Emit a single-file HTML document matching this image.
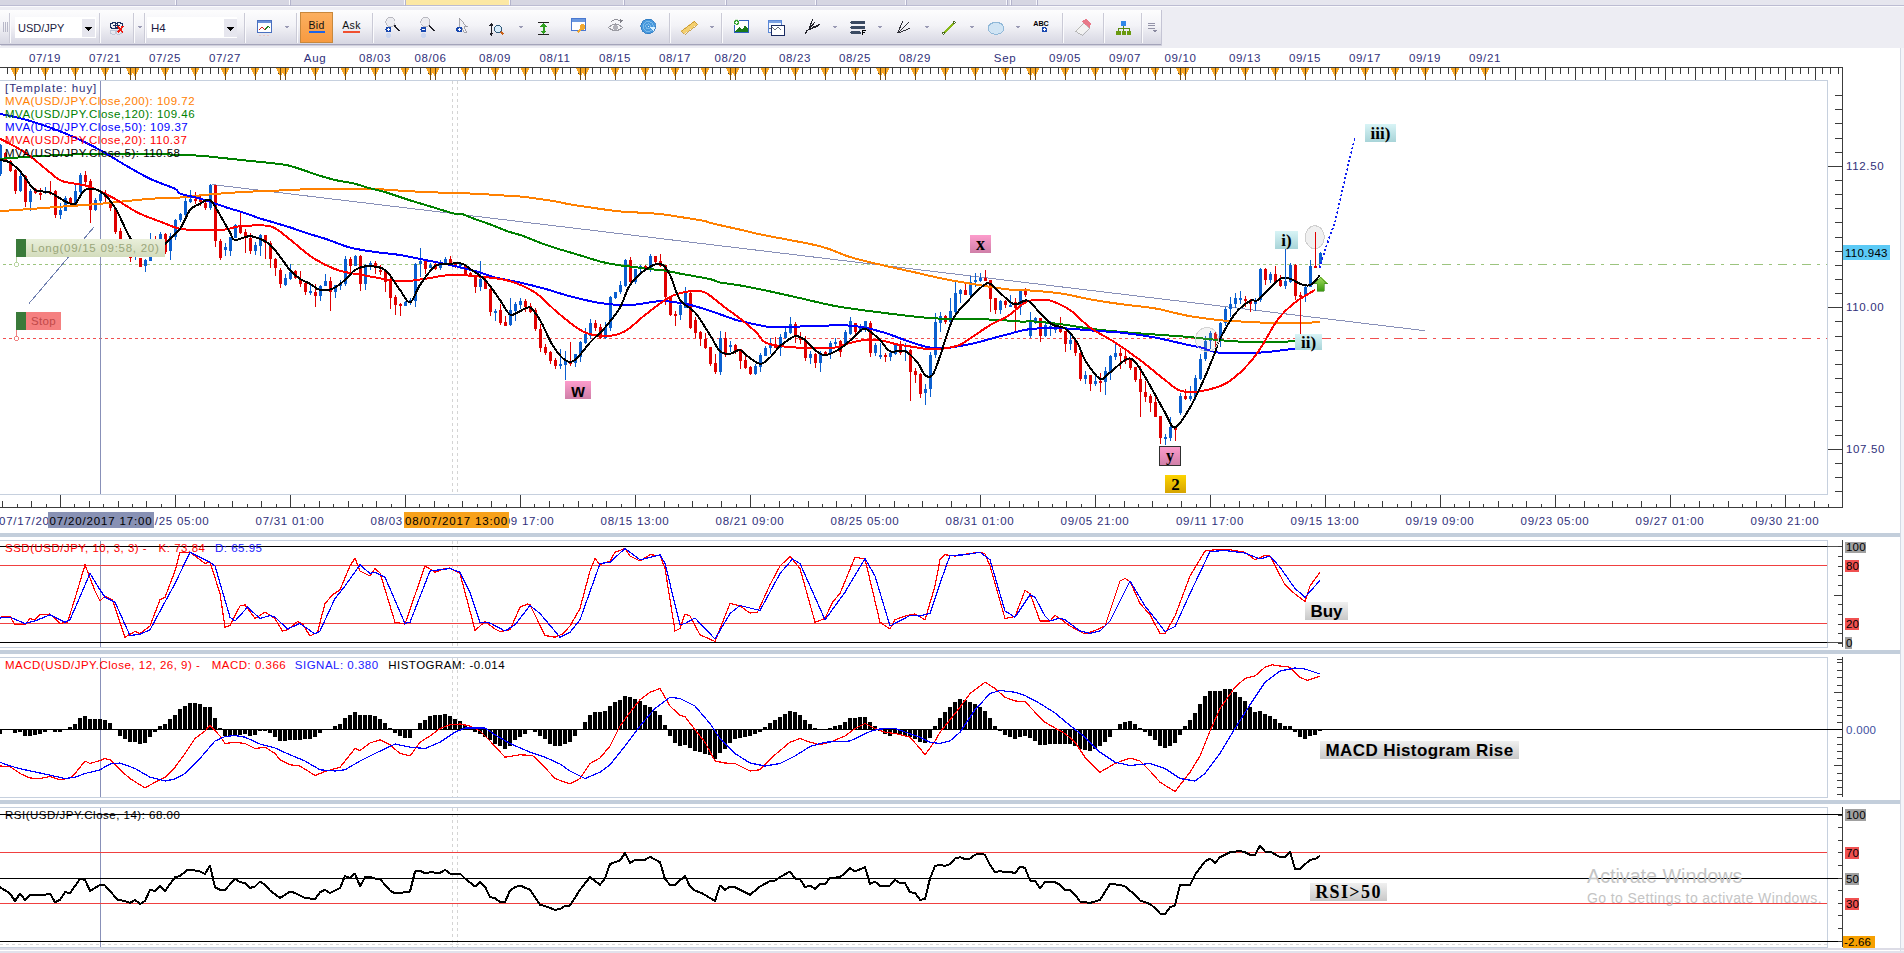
<!DOCTYPE html><html><head><meta charset="utf-8"><style>
html,body{margin:0;padding:0;width:1904px;height:953px;overflow:hidden;background:#fff;}
svg{display:block}
text{font-family:"Liberation Sans",sans-serif;}
.ser{font-family:"Liberation Serif",serif;font-weight:bold}
</style></head><body>
<svg width="1904" height="953" viewBox="0 0 1904 953">
<defs><linearGradient id="tb" x1="0" y1="0" x2="0" y2="1"><stop offset="0" stop-color="#fdfdfe"/><stop offset="0.45" stop-color="#f3f3f7"/><stop offset="1" stop-color="#d6d6e2"/></linearGradient><linearGradient id="bid" x1="0" y1="0" x2="0" y2="1"><stop offset="0" stop-color="#fcb060"/><stop offset="1" stop-color="#f79a40"/></linearGradient><linearGradient id="longg" x1="0" y1="0" x2="0" y2="1"><stop offset="0" stop-color="#e9efda"/><stop offset="1" stop-color="#d3dcbc"/></linearGradient><linearGradient id="pink" x1="0" y1="0" x2="0" y2="1"><stop offset="0" stop-color="#fd9ccc"/><stop offset="1" stop-color="#cf7fa8"/></linearGradient><linearGradient id="cyan" x1="0" y1="0" x2="0" y2="1"><stop offset="0" stop-color="#d8f4f6"/><stop offset="1" stop-color="#a8d4d8"/></linearGradient><linearGradient id="gold" x1="0" y1="0" x2="0" y2="1"><stop offset="0" stop-color="#fdd400"/><stop offset="1" stop-color="#d6a400"/></linearGradient><linearGradient id="gray" x1="0" y1="0" x2="0" y2="1"><stop offset="0" stop-color="#f0f0f0"/><stop offset="1" stop-color="#c8c8c8"/></linearGradient></defs>
<g shape-rendering="crispEdges">
<rect x="0" y="0" width="1904" height="48" fill="#ededf3"/>
<rect x="0" y="0" width="1038" height="5" fill="#d6d6e2"/>
<rect x="1038" y="0" width="866" height="5" fill="#e6e6ee"/>
<rect x="0" y="5" width="1904" height="1" fill="#bcbcd2"/>
<rect x="0" y="6" width="1904" height="1" fill="#fafafc"/>
<rect x="405" y="0" width="105" height="5" fill="#fce8a4"/>
<rect x="175" y="0" width="1" height="5" fill="#f8f8fc"/><rect x="176" y="0" width="1" height="6" fill="#b4b4cc"/>
<rect x="289" y="0" width="1" height="5" fill="#f8f8fc"/><rect x="290" y="0" width="1" height="6" fill="#b4b4cc"/>
<rect x="404" y="0" width="1" height="5" fill="#f8f8fc"/><rect x="405" y="0" width="1" height="6" fill="#b4b4cc"/>
<rect x="509" y="0" width="1" height="5" fill="#f8f8fc"/><rect x="510" y="0" width="1" height="6" fill="#b4b4cc"/>
<rect x="623" y="0" width="1" height="5" fill="#f8f8fc"/><rect x="624" y="0" width="1" height="6" fill="#b4b4cc"/>
<rect x="725" y="0" width="1" height="5" fill="#f8f8fc"/><rect x="726" y="0" width="1" height="6" fill="#b4b4cc"/>
<rect x="815" y="0" width="1" height="5" fill="#f8f8fc"/><rect x="816" y="0" width="1" height="6" fill="#b4b4cc"/>
<rect x="905" y="0" width="1" height="5" fill="#f8f8fc"/><rect x="906" y="0" width="1" height="6" fill="#b4b4cc"/>
<rect x="1006" y="0" width="1" height="5" fill="#f8f8fc"/><rect x="1007" y="0" width="1" height="6" fill="#b4b4cc"/>
<rect x="1010" y="0" width="1" height="5" fill="#f8f8fc"/><rect x="1011" y="0" width="1" height="6" fill="#b4b4cc"/>
<rect x="1036" y="0" width="1" height="5" fill="#f8f8fc"/><rect x="1037" y="0" width="1" height="6" fill="#b4b4cc"/>
<rect x="0" y="10" width="1161" height="34" fill="url(#tb)"/>
<rect x="0" y="44" width="1161" height="1" fill="#a4a4ba"/>
<rect x="1" y="45" width="1161" height="1" fill="#d0d0dc"/>
<rect x="1161" y="10" width="1" height="35" fill="#c4c4d4"/>
<rect x="0" y="48" width="1904" height="905" fill="#ffffff"/>
<rect x="3" y="22" width="1" height="10" fill="#b8b8c8"/>
<rect x="5" y="22" width="1" height="10" fill="#b8b8c8"/>
<rect x="7" y="22" width="1" height="10" fill="#b8b8c8"/>
<rect x="9" y="13" width="1" height="30" fill="#cacad6" shape-rendering="crispEdges"/><rect x="10" y="13" width="1" height="30" fill="#fbfbfd" shape-rendering="crispEdges"/>
<rect x="99" y="13" width="1" height="30" fill="#cacad6" shape-rendering="crispEdges"/><rect x="100" y="13" width="1" height="30" fill="#fbfbfd" shape-rendering="crispEdges"/>
<rect x="133" y="13" width="1" height="30" fill="#cacad6" shape-rendering="crispEdges"/><rect x="134" y="13" width="1" height="30" fill="#fbfbfd" shape-rendering="crispEdges"/>
<rect x="144" y="13" width="1" height="30" fill="#cacad6" shape-rendering="crispEdges"/><rect x="145" y="13" width="1" height="30" fill="#fbfbfd" shape-rendering="crispEdges"/>
<rect x="244" y="13" width="1" height="30" fill="#cacad6" shape-rendering="crispEdges"/><rect x="245" y="13" width="1" height="30" fill="#fbfbfd" shape-rendering="crispEdges"/>
<rect x="296" y="13" width="1" height="30" fill="#cacad6" shape-rendering="crispEdges"/><rect x="297" y="13" width="1" height="30" fill="#fbfbfd" shape-rendering="crispEdges"/>
<rect x="372" y="13" width="1" height="30" fill="#cacad6" shape-rendering="crispEdges"/><rect x="373" y="13" width="1" height="30" fill="#fbfbfd" shape-rendering="crispEdges"/>
<rect x="669" y="13" width="1" height="30" fill="#cacad6" shape-rendering="crispEdges"/><rect x="670" y="13" width="1" height="30" fill="#fbfbfd" shape-rendering="crispEdges"/>
<rect x="721" y="13" width="1" height="30" fill="#cacad6" shape-rendering="crispEdges"/><rect x="722" y="13" width="1" height="30" fill="#fbfbfd" shape-rendering="crispEdges"/>
<rect x="1062" y="13" width="1" height="30" fill="#cacad6" shape-rendering="crispEdges"/><rect x="1063" y="13" width="1" height="30" fill="#fbfbfd" shape-rendering="crispEdges"/>
<rect x="1103" y="13" width="1" height="30" fill="#cacad6" shape-rendering="crispEdges"/><rect x="1104" y="13" width="1" height="30" fill="#fbfbfd" shape-rendering="crispEdges"/>
<rect x="1141" y="13" width="1" height="30" fill="#cacad6" shape-rendering="crispEdges"/><rect x="1142" y="13" width="1" height="30" fill="#fbfbfd" shape-rendering="crispEdges"/>
<rect x="15" y="17" width="81" height="21" fill="#ffffff" shape-rendering="crispEdges"/>
<rect x="82" y="19" width="13" height="18" fill="#e6e6ee" shape-rendering="crispEdges"/>
<path d="M85 27 L92 27 L88.5 31 Z" fill="#000"/>
<text x="18" y="31.5" font-size="11" fill="#1a1a40">USD/JPY</text>
<rect x="147" y="17" width="90" height="21" fill="#ffffff" shape-rendering="crispEdges"/>
<rect x="224" y="19" width="13" height="18" fill="#e6e6ee" shape-rendering="crispEdges"/>
<path d="M227 27 L234 27 L230.5 31 Z" fill="#000"/>
<text x="151" y="31.5" font-size="11.5" fill="#1a1a40">H4</text>
<g fill="none" stroke="#1a3060" stroke-width="1.2"><rect x="110.5" y="22.8" width="7" height="5.6" rx="2.8"/><rect x="115.5" y="22.8" width="7" height="5.6" rx="2.8"/></g><path d="M113 25.6 H120" stroke="#1a3060" stroke-width="1"/>
<g fill="none" stroke="#c0c8d8" stroke-width="1"><rect x="110" y="30" width="7" height="4" rx="2"/><rect x="115" y="30" width="7" height="4" rx="2"/></g>
<path d="M117.5 26 L123 32.5 M123 26 L117.5 32.5" stroke="#ee1a10" stroke-width="1.8"/>
<path d="M137.0 26 L142.0 26 L139.5 28.5 Z" fill="#9a9ab4"/>
<path d="M284.5 26 L289.5 26 L287 28.5 Z" fill="#9a9ab4"/>
<path d="M518.2 26 L523.2 26 L520.7 28.5 Z" fill="#9a9ab4"/>
<path d="M709.8 26 L714.8 26 L712.3 28.5 Z" fill="#9a9ab4"/>
<path d="M832.1 26 L837.1 26 L834.6 28.5 Z" fill="#9a9ab4"/>
<path d="M877.7 26 L882.7 26 L880.2 28.5 Z" fill="#9a9ab4"/>
<path d="M924.0 26 L929.0 26 L926.5 28.5 Z" fill="#9a9ab4"/>
<path d="M969.9 26 L974.9 26 L972.4 28.5 Z" fill="#9a9ab4"/>
<path d="M1015.8 26 L1020.8 26 L1018.3 28.5 Z" fill="#9a9ab4"/>
<rect x="257.5" y="20.5" width="14" height="12" fill="#fff" stroke="#4a70c0"/><rect x="258" y="21" width="13" height="2" fill="#6a90d8"/>
<path d="M259 30 L262 27 L265 30" fill="none" stroke="#d02020" stroke-width="1.2"/><path d="M265 30 L268 26 L270 28" fill="none" stroke="#208020" stroke-width="1.2"/>
<path d="M259 35 H271" stroke="#e8c8c8" stroke-width="1" stroke-dasharray="2,2"/>
<rect x="300.5" y="12.5" width="32" height="30" fill="url(#bid)" stroke="#c8883c" shape-rendering="crispEdges"/>
<text x="316.5" y="29" font-size="10.5" fill="#111" text-anchor="middle" letter-spacing="0.3">Bid</text>
<rect x="309" y="31" width="16" height="2" fill="#1e64e6" shape-rendering="crispEdges"/>
<text x="351.5" y="29" font-size="10.5" fill="#111" text-anchor="middle" letter-spacing="0.3">Ask</text>
<rect x="343" y="31" width="17" height="2" fill="#f05030" shape-rendering="crispEdges"/>
<circle cx="390.5" cy="22" r="4.6" fill="#ececf0" stroke="#b8b8c0" stroke-width="1"/><path d="M394.5 25.5 L399.5 31" stroke="#202028" stroke-width="1.6"/><circle cx="388.5" cy="29.5" r="3" fill="#1848b0"/><path d="M386.7 29.5 H390.3 M388.5 27.7 V31.3" stroke="#fff" stroke-width="1.1"/><circle cx="388.5" cy="35.5" r="2.5" fill="#c0d0f0" opacity="0.7"/>
<circle cx="425.4" cy="22" r="4.6" fill="#ececf0" stroke="#b8b8c0" stroke-width="1"/><path d="M429.4 25.5 L434.4 31" stroke="#202028" stroke-width="1.6"/><circle cx="423.4" cy="29.5" r="3" fill="#1848b0"/><path d="M421.59999999999997 29.5 H425.2" stroke="#fff" stroke-width="1.1"/><circle cx="423.4" cy="35.5" r="2.5" fill="#c0d0f0" opacity="0.7"/>
<path d="M459.5 17.5 L459.5 30 L462 27.5 L464.5 32.5 L466.5 31.5 L464 26.5 L467.5 26.5 Z" fill="#f0f0f4" stroke="#909098" stroke-width="0.8"/><circle cx="459.3" cy="29.5" r="3" fill="#1848b0"/><path d="M457.5 29.5 H461.1 M459.3 27.7 V31.3" stroke="#fff" stroke-width="1.1"/>
<path d="M491.5 23.5 V35" stroke="#202028" stroke-width="1"/><path d="M489.5 25.5 L491.5 22.5 L493.5 25.5 Z M489.5 33 L491.5 36 L493.5 33 Z" fill="#202028"/><circle cx="498.2" cy="29" r="3.6" fill="#d8ecfa" stroke="#305878" stroke-width="1.2"/><path d="M500.8 31.6 L503.5 34.5" stroke="#c86018" stroke-width="1.8"/>
<path d="M538 22.5 H549 M538 34.5 H549" stroke="#202020" stroke-width="1.4"/><path d="M540.5 26.5 L543.6 22.5 L546.7 26.5 Z M540.5 30.5 L543.6 34.5 L546.7 30.5 Z" fill="#30a020"/><rect x="542.6" y="25.5" width="2" height="6" fill="#30a020"/>
<rect x="571.5" y="18.5" width="14" height="12" fill="#fff" stroke="#4a78d0"/><rect x="572" y="19" width="13" height="2.5" fill="#6a98e0"/><circle cx="582.5" cy="27" r="2.8" fill="#f0a830"/><path d="M581 29 L577.5 32.5" stroke="#f0a830" stroke-width="2.2"/>
<path d="M608.5 27.5 Q615.5 20.5 622.5 27.5 Q615.5 34 608.5 27.5 Z" fill="#f4f4f6" stroke="#9a9aa2" stroke-width="1.1"/><circle cx="615.5" cy="27.5" r="2.4" fill="#b0b0b8"/><path d="M611 21.5 Q615 18.5 620 20.5" stroke="#909098" fill="none" stroke-width="1"/><path d="M620 19 L623 20.5 L620.5 23 Z" fill="#808088"/>
<circle cx="648.2" cy="26.4" r="7.4" fill="#4898dc" stroke="#2c78c0" stroke-width="0.8"/><circle cx="648.2" cy="26.4" r="5" fill="none" stroke="#90c8f0" stroke-width="0.7"/><circle cx="648.2" cy="26.4" r="2.5" fill="none" stroke="#90c8f0" stroke-width="0.7"/><path d="M648.2 26.4 L654 31 L655 27 Z" fill="#d8f0ff"/>
<path d="M681.5 30.5 L694.5 20.5 L697.5 24 L684.5 34 Z" fill="#f4d070" stroke="#c09030" stroke-width="0.8"/>
<rect x="734.5" y="20.5" width="14" height="12" fill="#fff" stroke="#3060c0"/><path d="M735 32 L739 27 L742 29.5 L745 25.5 L748 29 L748 32 Z" fill="#1a7a1a"/><circle cx="736.5" cy="22.2" r="3" fill="#30a030" stroke="#fff" stroke-width="0.8"/><path d="M735 22.2 H738 M736.5 20.7 V23.7" stroke="#fff" stroke-width="0.9"/>
<rect x="768.5" y="20.5" width="13" height="12" fill="#f4f8ff" stroke="#5a88d8"/><rect x="769" y="21" width="12" height="2" fill="#7aa0e0"/><rect x="771.5" y="25.5" width="13" height="10" fill="#fff" stroke="#1a2a60"/><path d="M769 29 L772 27.5 L775 29.5 L778 27.5 L781 29.5" stroke="#404858" fill="none" stroke-width="0.8"/>
<path d="M805 33.5 L815 22 M806.5 30.5 L818 26 M809.5 28 L812.5 19.5 M812 27.5 L820 24.5" stroke="#202028" stroke-width="1.1" fill="none"/>
<g fill="#3a4a62"><rect x="850.3" y="21" width="15.2" height="2.8" rx="1.4"/><rect x="850.3" y="26.2" width="15.2" height="2.8" rx="1.4"/><rect x="850.3" y="31.4" width="11" height="2.8" rx="1.4"/></g><path d="M862.5 35 V30.8 H865.5 M862.5 32.8 H864.8" stroke="#000" stroke-width="1.2" fill="none"/>
<path d="M897.6 33.2 L902.8 21.1 M897.6 33.2 L909.1 22.2 M897.6 33.2 L909.7 28.5" stroke="#303038" stroke-width="1" fill="none"/>
<path d="M943.5 33.4 L954.3 22.5" stroke="#88b818" stroke-width="2"/><circle cx="943.5" cy="33.4" r="1.3" fill="#fff" stroke="#3a5a10" stroke-width="0.9"/><circle cx="954.3" cy="22.5" r="1.3" fill="#fff" stroke="#3a5a10" stroke-width="0.9"/>
<ellipse cx="996" cy="28.3" rx="7.9" ry="6" fill="#d0e4f4" stroke="#90b8d8" stroke-width="1"/>
<text x="1041" y="25.5" font-size="7.2" font-weight="bold" fill="#000" text-anchor="middle">ABC</text><circle cx="1044.3" cy="29.7" r="2.8" fill="#1848b0"/><path d="M1042.6 29.7 H1046 M1044.3 28 V31.4" stroke="#fff" stroke-width="1"/>
<path d="M1075 31 L1083 22.5 L1089.5 28 L1081.5 35 Z" fill="#f2f2f2" stroke="#a8a8a8" stroke-width="0.8"/><path d="M1082 21 L1086 19 L1091 23 L1089.5 28 L1083 22.5 Z" fill="#e87888"/>
<rect x="1121" y="21.3" width="4.8" height="4.2" fill="#3088e8"/><path d="M1123.5 25.5 V28 M1118.5 28 H1129 M1118.5 28 V31 M1123.5 28 V31 M1129 28 V31" stroke="#5a8a10" stroke-width="1" fill="none"/><rect x="1116" y="30.8" width="5" height="3.8" fill="#6a9a10"/><rect x="1121.6" y="30.8" width="4.4" height="3.8" fill="#6a9a10"/><rect x="1127" y="30.8" width="4.4" height="3.8" fill="#6a9a10"/>
<path d="M1148 23 H1155 M1148 25.5 H1155 M1148 28 H1155" stroke="#8a8aa0" stroke-width="0.9"/><path d="M1152 30 L1157 30 L1154.5 32.5 Z" fill="#8a8aa0"/>
<g shape-rendering="crispEdges">
<rect x="0" y="67" width="1843" height="1" fill="#3c3c3c"/>
<rect x="15" y="67" width="1" height="13" fill="#3a3a3a"/>
<rect x="22" y="67" width="1" height="7" fill="#3a3a3a"/>
<rect x="30" y="67" width="1" height="7" fill="#3a3a3a"/>
<rect x="38" y="67" width="1" height="7" fill="#3a3a3a"/>
<rect x="45" y="67" width="1" height="13" fill="#3a3a3a"/>
<rect x="52" y="67" width="1" height="7" fill="#3a3a3a"/>
<rect x="60" y="67" width="1" height="7" fill="#3a3a3a"/>
<rect x="68" y="67" width="1" height="7" fill="#3a3a3a"/>
<rect x="75" y="67" width="1" height="13" fill="#3a3a3a"/>
<rect x="82" y="67" width="1" height="7" fill="#3a3a3a"/>
<rect x="90" y="67" width="1" height="7" fill="#3a3a3a"/>
<rect x="98" y="67" width="1" height="7" fill="#3a3a3a"/>
<rect x="105" y="67" width="1" height="13" fill="#3a3a3a"/>
<rect x="112" y="67" width="1" height="7" fill="#3a3a3a"/>
<rect x="120" y="67" width="1" height="7" fill="#3a3a3a"/>
<rect x="128" y="67" width="1" height="7" fill="#3a3a3a"/>
<rect x="135" y="67" width="1" height="13" fill="#3a3a3a"/>
<rect x="142" y="67" width="1" height="7" fill="#3a3a3a"/>
<rect x="150" y="67" width="1" height="7" fill="#3a3a3a"/>
<rect x="158" y="67" width="1" height="7" fill="#3a3a3a"/>
<rect x="165" y="67" width="1" height="13" fill="#3a3a3a"/>
<rect x="172" y="67" width="1" height="7" fill="#3a3a3a"/>
<rect x="180" y="67" width="1" height="7" fill="#3a3a3a"/>
<rect x="188" y="67" width="1" height="7" fill="#3a3a3a"/>
<rect x="195" y="67" width="1" height="13" fill="#3a3a3a"/>
<rect x="202" y="67" width="1" height="7" fill="#3a3a3a"/>
<rect x="210" y="67" width="1" height="7" fill="#3a3a3a"/>
<rect x="218" y="67" width="1" height="7" fill="#3a3a3a"/>
<rect x="225" y="67" width="1" height="13" fill="#3a3a3a"/>
<rect x="232" y="67" width="1" height="7" fill="#3a3a3a"/>
<rect x="240" y="67" width="1" height="7" fill="#3a3a3a"/>
<rect x="248" y="67" width="1" height="7" fill="#3a3a3a"/>
<rect x="255" y="67" width="1" height="13" fill="#3a3a3a"/>
<rect x="262" y="67" width="1" height="7" fill="#3a3a3a"/>
<rect x="270" y="67" width="1" height="7" fill="#3a3a3a"/>
<rect x="278" y="67" width="1" height="7" fill="#3a3a3a"/>
<rect x="285" y="67" width="1" height="13" fill="#3a3a3a"/>
<rect x="292" y="67" width="1" height="7" fill="#3a3a3a"/>
<rect x="300" y="67" width="1" height="7" fill="#3a3a3a"/>
<rect x="308" y="67" width="1" height="7" fill="#3a3a3a"/>
<rect x="315" y="67" width="1" height="13" fill="#3a3a3a"/>
<rect x="322" y="67" width="1" height="7" fill="#3a3a3a"/>
<rect x="330" y="67" width="1" height="7" fill="#3a3a3a"/>
<rect x="338" y="67" width="1" height="7" fill="#3a3a3a"/>
<rect x="345" y="67" width="1" height="13" fill="#3a3a3a"/>
<rect x="352" y="67" width="1" height="7" fill="#3a3a3a"/>
<rect x="360" y="67" width="1" height="7" fill="#3a3a3a"/>
<rect x="368" y="67" width="1" height="7" fill="#3a3a3a"/>
<rect x="375" y="67" width="1" height="13" fill="#3a3a3a"/>
<rect x="382" y="67" width="1" height="7" fill="#3a3a3a"/>
<rect x="390" y="67" width="1" height="7" fill="#3a3a3a"/>
<rect x="398" y="67" width="1" height="7" fill="#3a3a3a"/>
<rect x="405" y="67" width="1" height="13" fill="#3a3a3a"/>
<rect x="412" y="67" width="1" height="7" fill="#3a3a3a"/>
<rect x="420" y="67" width="1" height="7" fill="#3a3a3a"/>
<rect x="428" y="67" width="1" height="7" fill="#3a3a3a"/>
<rect x="435" y="67" width="1" height="13" fill="#3a3a3a"/>
<rect x="442" y="67" width="1" height="7" fill="#3a3a3a"/>
<rect x="450" y="67" width="1" height="7" fill="#3a3a3a"/>
<rect x="458" y="67" width="1" height="7" fill="#3a3a3a"/>
<rect x="465" y="67" width="1" height="13" fill="#3a3a3a"/>
<rect x="472" y="67" width="1" height="7" fill="#3a3a3a"/>
<rect x="480" y="67" width="1" height="7" fill="#3a3a3a"/>
<rect x="488" y="67" width="1" height="7" fill="#3a3a3a"/>
<rect x="495" y="67" width="1" height="13" fill="#3a3a3a"/>
<rect x="502" y="67" width="1" height="7" fill="#3a3a3a"/>
<rect x="510" y="67" width="1" height="7" fill="#3a3a3a"/>
<rect x="518" y="67" width="1" height="7" fill="#3a3a3a"/>
<rect x="525" y="67" width="1" height="13" fill="#3a3a3a"/>
<rect x="532" y="67" width="1" height="7" fill="#3a3a3a"/>
<rect x="540" y="67" width="1" height="7" fill="#3a3a3a"/>
<rect x="548" y="67" width="1" height="7" fill="#3a3a3a"/>
<rect x="555" y="67" width="1" height="13" fill="#3a3a3a"/>
<rect x="562" y="67" width="1" height="7" fill="#3a3a3a"/>
<rect x="570" y="67" width="1" height="7" fill="#3a3a3a"/>
<rect x="578" y="67" width="1" height="7" fill="#3a3a3a"/>
<rect x="585" y="67" width="1" height="13" fill="#3a3a3a"/>
<rect x="592" y="67" width="1" height="7" fill="#3a3a3a"/>
<rect x="600" y="67" width="1" height="7" fill="#3a3a3a"/>
<rect x="608" y="67" width="1" height="7" fill="#3a3a3a"/>
<rect x="615" y="67" width="1" height="13" fill="#3a3a3a"/>
<rect x="622" y="67" width="1" height="7" fill="#3a3a3a"/>
<rect x="630" y="67" width="1" height="7" fill="#3a3a3a"/>
<rect x="638" y="67" width="1" height="7" fill="#3a3a3a"/>
<rect x="645" y="67" width="1" height="13" fill="#3a3a3a"/>
<rect x="652" y="67" width="1" height="7" fill="#3a3a3a"/>
<rect x="660" y="67" width="1" height="7" fill="#3a3a3a"/>
<rect x="668" y="67" width="1" height="7" fill="#3a3a3a"/>
<rect x="675" y="67" width="1" height="13" fill="#3a3a3a"/>
<rect x="682" y="67" width="1" height="7" fill="#3a3a3a"/>
<rect x="690" y="67" width="1" height="7" fill="#3a3a3a"/>
<rect x="698" y="67" width="1" height="7" fill="#3a3a3a"/>
<rect x="705" y="67" width="1" height="13" fill="#3a3a3a"/>
<rect x="712" y="67" width="1" height="7" fill="#3a3a3a"/>
<rect x="720" y="67" width="1" height="7" fill="#3a3a3a"/>
<rect x="728" y="67" width="1" height="7" fill="#3a3a3a"/>
<rect x="735" y="67" width="1" height="13" fill="#3a3a3a"/>
<rect x="742" y="67" width="1" height="7" fill="#3a3a3a"/>
<rect x="750" y="67" width="1" height="7" fill="#3a3a3a"/>
<rect x="758" y="67" width="1" height="7" fill="#3a3a3a"/>
<rect x="765" y="67" width="1" height="13" fill="#3a3a3a"/>
<rect x="772" y="67" width="1" height="7" fill="#3a3a3a"/>
<rect x="780" y="67" width="1" height="7" fill="#3a3a3a"/>
<rect x="788" y="67" width="1" height="7" fill="#3a3a3a"/>
<rect x="795" y="67" width="1" height="13" fill="#3a3a3a"/>
<rect x="802" y="67" width="1" height="7" fill="#3a3a3a"/>
<rect x="810" y="67" width="1" height="7" fill="#3a3a3a"/>
<rect x="818" y="67" width="1" height="7" fill="#3a3a3a"/>
<rect x="825" y="67" width="1" height="13" fill="#3a3a3a"/>
<rect x="832" y="67" width="1" height="7" fill="#3a3a3a"/>
<rect x="840" y="67" width="1" height="7" fill="#3a3a3a"/>
<rect x="848" y="67" width="1" height="7" fill="#3a3a3a"/>
<rect x="855" y="67" width="1" height="13" fill="#3a3a3a"/>
<rect x="862" y="67" width="1" height="7" fill="#3a3a3a"/>
<rect x="870" y="67" width="1" height="7" fill="#3a3a3a"/>
<rect x="878" y="67" width="1" height="7" fill="#3a3a3a"/>
<rect x="885" y="67" width="1" height="13" fill="#3a3a3a"/>
<rect x="892" y="67" width="1" height="7" fill="#3a3a3a"/>
<rect x="900" y="67" width="1" height="7" fill="#3a3a3a"/>
<rect x="908" y="67" width="1" height="7" fill="#3a3a3a"/>
<rect x="915" y="67" width="1" height="13" fill="#3a3a3a"/>
<rect x="922" y="67" width="1" height="7" fill="#3a3a3a"/>
<rect x="930" y="67" width="1" height="7" fill="#3a3a3a"/>
<rect x="938" y="67" width="1" height="7" fill="#3a3a3a"/>
<rect x="945" y="67" width="1" height="13" fill="#3a3a3a"/>
<rect x="952" y="67" width="1" height="7" fill="#3a3a3a"/>
<rect x="960" y="67" width="1" height="7" fill="#3a3a3a"/>
<rect x="968" y="67" width="1" height="7" fill="#3a3a3a"/>
<rect x="975" y="67" width="1" height="13" fill="#3a3a3a"/>
<rect x="982" y="67" width="1" height="7" fill="#3a3a3a"/>
<rect x="990" y="67" width="1" height="7" fill="#3a3a3a"/>
<rect x="998" y="67" width="1" height="7" fill="#3a3a3a"/>
<rect x="1005" y="67" width="1" height="13" fill="#3a3a3a"/>
<rect x="1012" y="67" width="1" height="7" fill="#3a3a3a"/>
<rect x="1020" y="67" width="1" height="7" fill="#3a3a3a"/>
<rect x="1028" y="67" width="1" height="7" fill="#3a3a3a"/>
<rect x="1035" y="67" width="1" height="13" fill="#3a3a3a"/>
<rect x="1042" y="67" width="1" height="7" fill="#3a3a3a"/>
<rect x="1050" y="67" width="1" height="7" fill="#3a3a3a"/>
<rect x="1058" y="67" width="1" height="7" fill="#3a3a3a"/>
<rect x="1065" y="67" width="1" height="13" fill="#3a3a3a"/>
<rect x="1072" y="67" width="1" height="7" fill="#3a3a3a"/>
<rect x="1080" y="67" width="1" height="7" fill="#3a3a3a"/>
<rect x="1088" y="67" width="1" height="7" fill="#3a3a3a"/>
<rect x="1095" y="67" width="1" height="13" fill="#3a3a3a"/>
<rect x="1102" y="67" width="1" height="7" fill="#3a3a3a"/>
<rect x="1110" y="67" width="1" height="7" fill="#3a3a3a"/>
<rect x="1118" y="67" width="1" height="7" fill="#3a3a3a"/>
<rect x="1125" y="67" width="1" height="13" fill="#3a3a3a"/>
<rect x="1132" y="67" width="1" height="7" fill="#3a3a3a"/>
<rect x="1140" y="67" width="1" height="7" fill="#3a3a3a"/>
<rect x="1148" y="67" width="1" height="7" fill="#3a3a3a"/>
<rect x="1155" y="67" width="1" height="13" fill="#3a3a3a"/>
<rect x="1162" y="67" width="1" height="7" fill="#3a3a3a"/>
<rect x="1170" y="67" width="1" height="7" fill="#3a3a3a"/>
<rect x="1178" y="67" width="1" height="7" fill="#3a3a3a"/>
<rect x="1185" y="67" width="1" height="13" fill="#3a3a3a"/>
<rect x="1192" y="67" width="1" height="7" fill="#3a3a3a"/>
<rect x="1200" y="67" width="1" height="7" fill="#3a3a3a"/>
<rect x="1208" y="67" width="1" height="7" fill="#3a3a3a"/>
<rect x="1215" y="67" width="1" height="13" fill="#3a3a3a"/>
<rect x="1222" y="67" width="1" height="7" fill="#3a3a3a"/>
<rect x="1230" y="67" width="1" height="7" fill="#3a3a3a"/>
<rect x="1238" y="67" width="1" height="7" fill="#3a3a3a"/>
<rect x="1245" y="67" width="1" height="13" fill="#3a3a3a"/>
<rect x="1252" y="67" width="1" height="7" fill="#3a3a3a"/>
<rect x="1260" y="67" width="1" height="7" fill="#3a3a3a"/>
<rect x="1268" y="67" width="1" height="7" fill="#3a3a3a"/>
<rect x="1275" y="67" width="1" height="13" fill="#3a3a3a"/>
<rect x="1282" y="67" width="1" height="7" fill="#3a3a3a"/>
<rect x="1290" y="67" width="1" height="7" fill="#3a3a3a"/>
<rect x="1298" y="67" width="1" height="7" fill="#3a3a3a"/>
<rect x="1305" y="67" width="1" height="13" fill="#3a3a3a"/>
<rect x="1312" y="67" width="1" height="7" fill="#3a3a3a"/>
<rect x="1320" y="67" width="1" height="7" fill="#3a3a3a"/>
<rect x="1328" y="67" width="1" height="7" fill="#3a3a3a"/>
<rect x="1335" y="67" width="1" height="13" fill="#3a3a3a"/>
<rect x="1342" y="67" width="1" height="7" fill="#3a3a3a"/>
<rect x="1350" y="67" width="1" height="7" fill="#3a3a3a"/>
<rect x="1358" y="67" width="1" height="7" fill="#3a3a3a"/>
<rect x="1365" y="67" width="1" height="13" fill="#3a3a3a"/>
<rect x="1372" y="67" width="1" height="7" fill="#3a3a3a"/>
<rect x="1380" y="67" width="1" height="7" fill="#3a3a3a"/>
<rect x="1388" y="67" width="1" height="7" fill="#3a3a3a"/>
<rect x="1395" y="67" width="1" height="13" fill="#3a3a3a"/>
<rect x="1402" y="67" width="1" height="7" fill="#3a3a3a"/>
<rect x="1410" y="67" width="1" height="7" fill="#3a3a3a"/>
<rect x="1418" y="67" width="1" height="7" fill="#3a3a3a"/>
<rect x="1425" y="67" width="1" height="13" fill="#3a3a3a"/>
<rect x="1432" y="67" width="1" height="7" fill="#3a3a3a"/>
<rect x="1440" y="67" width="1" height="7" fill="#3a3a3a"/>
<rect x="1448" y="67" width="1" height="7" fill="#3a3a3a"/>
<rect x="1455" y="67" width="1" height="13" fill="#3a3a3a"/>
<rect x="1462" y="67" width="1" height="7" fill="#3a3a3a"/>
<rect x="1470" y="67" width="1" height="7" fill="#3a3a3a"/>
<rect x="1478" y="67" width="1" height="7" fill="#3a3a3a"/>
<rect x="1485" y="67" width="1" height="13" fill="#3a3a3a"/>
<rect x="1492" y="67" width="1" height="7" fill="#3a3a3a"/>
<rect x="1500" y="67" width="1" height="7" fill="#3a3a3a"/>
<rect x="1508" y="67" width="1" height="7" fill="#3a3a3a"/>
<rect x="1515" y="67" width="1" height="13" fill="#3a3a3a"/>
<rect x="1522" y="67" width="1" height="7" fill="#3a3a3a"/>
<rect x="1530" y="67" width="1" height="7" fill="#3a3a3a"/>
<rect x="1538" y="67" width="1" height="7" fill="#3a3a3a"/>
<rect x="1545" y="67" width="1" height="13" fill="#3a3a3a"/>
<rect x="1552" y="67" width="1" height="7" fill="#3a3a3a"/>
<rect x="1560" y="67" width="1" height="7" fill="#3a3a3a"/>
<rect x="1568" y="67" width="1" height="7" fill="#3a3a3a"/>
<rect x="1575" y="67" width="1" height="13" fill="#3a3a3a"/>
<rect x="1582" y="67" width="1" height="7" fill="#3a3a3a"/>
<rect x="1590" y="67" width="1" height="7" fill="#3a3a3a"/>
<rect x="1598" y="67" width="1" height="7" fill="#3a3a3a"/>
<rect x="1605" y="67" width="1" height="13" fill="#3a3a3a"/>
<rect x="1612" y="67" width="1" height="7" fill="#3a3a3a"/>
<rect x="1620" y="67" width="1" height="7" fill="#3a3a3a"/>
<rect x="1628" y="67" width="1" height="7" fill="#3a3a3a"/>
<rect x="1635" y="67" width="1" height="13" fill="#3a3a3a"/>
<rect x="1642" y="67" width="1" height="7" fill="#3a3a3a"/>
<rect x="1650" y="67" width="1" height="7" fill="#3a3a3a"/>
<rect x="1658" y="67" width="1" height="7" fill="#3a3a3a"/>
<rect x="1665" y="67" width="1" height="13" fill="#3a3a3a"/>
<rect x="1672" y="67" width="1" height="7" fill="#3a3a3a"/>
<rect x="1680" y="67" width="1" height="7" fill="#3a3a3a"/>
<rect x="1688" y="67" width="1" height="7" fill="#3a3a3a"/>
<rect x="1695" y="67" width="1" height="13" fill="#3a3a3a"/>
<rect x="1702" y="67" width="1" height="7" fill="#3a3a3a"/>
<rect x="1710" y="67" width="1" height="7" fill="#3a3a3a"/>
<rect x="1718" y="67" width="1" height="7" fill="#3a3a3a"/>
<rect x="1725" y="67" width="1" height="13" fill="#3a3a3a"/>
<rect x="1732" y="67" width="1" height="7" fill="#3a3a3a"/>
<rect x="1740" y="67" width="1" height="7" fill="#3a3a3a"/>
<rect x="1748" y="67" width="1" height="7" fill="#3a3a3a"/>
<rect x="1755" y="67" width="1" height="13" fill="#3a3a3a"/>
<rect x="1762" y="67" width="1" height="7" fill="#3a3a3a"/>
<rect x="1770" y="67" width="1" height="7" fill="#3a3a3a"/>
<rect x="1778" y="67" width="1" height="7" fill="#3a3a3a"/>
<rect x="1785" y="67" width="1" height="13" fill="#3a3a3a"/>
<rect x="1792" y="67" width="1" height="7" fill="#3a3a3a"/>
<rect x="1800" y="67" width="1" height="7" fill="#3a3a3a"/>
<rect x="1808" y="67" width="1" height="7" fill="#3a3a3a"/>
<rect x="1815" y="67" width="1" height="13" fill="#3a3a3a"/>
<rect x="1822" y="67" width="1" height="7" fill="#3a3a3a"/>
<rect x="1830" y="67" width="1" height="7" fill="#3a3a3a"/>
<rect x="1838" y="67" width="1" height="7" fill="#3a3a3a"/>
<rect x="7" y="67" width="1" height="7" fill="#3a3a3a"/>
</g>
<path d="M10.5 68 L19.5 68 L15.0 77 Z" fill="#f8a623"/>
<rect x="15" y="68" width="1" height="12" fill="#6a4a1a" shape-rendering="crispEdges"/>
<path d="M40.5 68 L49.5 68 L45.0 77 Z" fill="#f8a623"/>
<rect x="45" y="68" width="1" height="12" fill="#6a4a1a" shape-rendering="crispEdges"/>
<path d="M70.5 68 L79.5 68 L75.0 77 Z" fill="#f8a623"/>
<rect x="75" y="68" width="1" height="12" fill="#6a4a1a" shape-rendering="crispEdges"/>
<path d="M100.5 68 L109.5 68 L105.0 77 Z" fill="#f8a623"/>
<rect x="105" y="68" width="1" height="12" fill="#6a4a1a" shape-rendering="crispEdges"/>
<path d="M130.5 68 L139.5 68 L135.0 77 Z" fill="#f8a623"/>
<rect x="135" y="68" width="1" height="12" fill="#6a4a1a" shape-rendering="crispEdges"/>
<path d="M160.5 68 L169.5 68 L165.0 77 Z" fill="#f8a623"/>
<rect x="165" y="68" width="1" height="12" fill="#6a4a1a" shape-rendering="crispEdges"/>
<path d="M190.5 68 L199.5 68 L195.0 77 Z" fill="#f8a623"/>
<rect x="195" y="68" width="1" height="12" fill="#6a4a1a" shape-rendering="crispEdges"/>
<path d="M220.5 68 L229.5 68 L225.0 77 Z" fill="#f8a623"/>
<rect x="225" y="68" width="1" height="12" fill="#6a4a1a" shape-rendering="crispEdges"/>
<path d="M250.5 68 L259.5 68 L255.0 77 Z" fill="#f8a623"/>
<rect x="255" y="68" width="1" height="12" fill="#6a4a1a" shape-rendering="crispEdges"/>
<path d="M280.5 68 L289.5 68 L285.0 77 Z" fill="#f8a623"/>
<rect x="285" y="68" width="1" height="12" fill="#6a4a1a" shape-rendering="crispEdges"/>
<path d="M310.5 68 L319.5 68 L315.0 77 Z" fill="#f8a623"/>
<rect x="315" y="68" width="1" height="12" fill="#6a4a1a" shape-rendering="crispEdges"/>
<path d="M340.5 68 L349.5 68 L345.0 77 Z" fill="#f8a623"/>
<rect x="345" y="68" width="1" height="12" fill="#6a4a1a" shape-rendering="crispEdges"/>
<path d="M370.5 68 L379.5 68 L375.0 77 Z" fill="#f8a623"/>
<rect x="375" y="68" width="1" height="12" fill="#6a4a1a" shape-rendering="crispEdges"/>
<path d="M400.5 68 L409.5 68 L405.0 77 Z" fill="#f8a623"/>
<rect x="405" y="68" width="1" height="12" fill="#6a4a1a" shape-rendering="crispEdges"/>
<path d="M430.5 68 L439.5 68 L435.0 77 Z" fill="#f8a623"/>
<rect x="435" y="68" width="1" height="12" fill="#6a4a1a" shape-rendering="crispEdges"/>
<path d="M460.5 68 L469.5 68 L465.0 77 Z" fill="#f8a623"/>
<rect x="465" y="68" width="1" height="12" fill="#6a4a1a" shape-rendering="crispEdges"/>
<path d="M490.5 68 L499.5 68 L495.0 77 Z" fill="#f8a623"/>
<rect x="495" y="68" width="1" height="12" fill="#6a4a1a" shape-rendering="crispEdges"/>
<path d="M520.5 68 L529.5 68 L525.0 77 Z" fill="#f8a623"/>
<rect x="525" y="68" width="1" height="12" fill="#6a4a1a" shape-rendering="crispEdges"/>
<path d="M550.5 68 L559.5 68 L555.0 77 Z" fill="#f8a623"/>
<rect x="555" y="68" width="1" height="12" fill="#6a4a1a" shape-rendering="crispEdges"/>
<path d="M580.5 68 L589.5 68 L585.0 77 Z" fill="#f8a623"/>
<rect x="585" y="68" width="1" height="12" fill="#6a4a1a" shape-rendering="crispEdges"/>
<path d="M610.5 68 L619.5 68 L615.0 77 Z" fill="#f8a623"/>
<rect x="615" y="68" width="1" height="12" fill="#6a4a1a" shape-rendering="crispEdges"/>
<path d="M640.5 68 L649.5 68 L645.0 77 Z" fill="#f8a623"/>
<rect x="645" y="68" width="1" height="12" fill="#6a4a1a" shape-rendering="crispEdges"/>
<path d="M670.5 68 L679.5 68 L675.0 77 Z" fill="#f8a623"/>
<rect x="675" y="68" width="1" height="12" fill="#6a4a1a" shape-rendering="crispEdges"/>
<path d="M700.5 68 L709.5 68 L705.0 77 Z" fill="#f8a623"/>
<rect x="705" y="68" width="1" height="12" fill="#6a4a1a" shape-rendering="crispEdges"/>
<path d="M730.5 68 L739.5 68 L735.0 77 Z" fill="#f8a623"/>
<rect x="735" y="68" width="1" height="12" fill="#6a4a1a" shape-rendering="crispEdges"/>
<path d="M760.5 68 L769.5 68 L765.0 77 Z" fill="#f8a623"/>
<rect x="765" y="68" width="1" height="12" fill="#6a4a1a" shape-rendering="crispEdges"/>
<path d="M790.5 68 L799.5 68 L795.0 77 Z" fill="#f8a623"/>
<rect x="795" y="68" width="1" height="12" fill="#6a4a1a" shape-rendering="crispEdges"/>
<path d="M820.5 68 L829.5 68 L825.0 77 Z" fill="#f8a623"/>
<rect x="825" y="68" width="1" height="12" fill="#6a4a1a" shape-rendering="crispEdges"/>
<path d="M850.5 68 L859.5 68 L855.0 77 Z" fill="#f8a623"/>
<rect x="855" y="68" width="1" height="12" fill="#6a4a1a" shape-rendering="crispEdges"/>
<path d="M880.5 68 L889.5 68 L885.0 77 Z" fill="#f8a623"/>
<rect x="885" y="68" width="1" height="12" fill="#6a4a1a" shape-rendering="crispEdges"/>
<path d="M910.5 68 L919.5 68 L915.0 77 Z" fill="#f8a623"/>
<rect x="915" y="68" width="1" height="12" fill="#6a4a1a" shape-rendering="crispEdges"/>
<path d="M940.5 68 L949.5 68 L945.0 77 Z" fill="#f8a623"/>
<rect x="945" y="68" width="1" height="12" fill="#6a4a1a" shape-rendering="crispEdges"/>
<path d="M970.5 68 L979.5 68 L975.0 77 Z" fill="#f8a623"/>
<rect x="975" y="68" width="1" height="12" fill="#6a4a1a" shape-rendering="crispEdges"/>
<path d="M1000.5 68 L1009.5 68 L1005.0 77 Z" fill="#f8a623"/>
<rect x="1005" y="68" width="1" height="12" fill="#6a4a1a" shape-rendering="crispEdges"/>
<path d="M1030.5 68 L1039.5 68 L1035.0 77 Z" fill="#f8a623"/>
<rect x="1035" y="68" width="1" height="12" fill="#6a4a1a" shape-rendering="crispEdges"/>
<path d="M1060.5 68 L1069.5 68 L1065.0 77 Z" fill="#f8a623"/>
<rect x="1065" y="68" width="1" height="12" fill="#6a4a1a" shape-rendering="crispEdges"/>
<path d="M1090.5 68 L1099.5 68 L1095.0 77 Z" fill="#f8a623"/>
<rect x="1095" y="68" width="1" height="12" fill="#6a4a1a" shape-rendering="crispEdges"/>
<path d="M1120.5 68 L1129.5 68 L1125.0 77 Z" fill="#f8a623"/>
<rect x="1125" y="68" width="1" height="12" fill="#6a4a1a" shape-rendering="crispEdges"/>
<path d="M1150.5 68 L1159.5 68 L1155.0 77 Z" fill="#f8a623"/>
<rect x="1155" y="68" width="1" height="12" fill="#6a4a1a" shape-rendering="crispEdges"/>
<path d="M1180.5 68 L1189.5 68 L1185.0 77 Z" fill="#f8a623"/>
<rect x="1185" y="68" width="1" height="12" fill="#6a4a1a" shape-rendering="crispEdges"/>
<path d="M1210.5 68 L1219.5 68 L1215.0 77 Z" fill="#f8a623"/>
<rect x="1215" y="68" width="1" height="12" fill="#6a4a1a" shape-rendering="crispEdges"/>
<path d="M1240.5 68 L1249.5 68 L1245.0 77 Z" fill="#f8a623"/>
<rect x="1245" y="68" width="1" height="12" fill="#6a4a1a" shape-rendering="crispEdges"/>
<path d="M1270.5 68 L1279.5 68 L1275.0 77 Z" fill="#f8a623"/>
<rect x="1275" y="68" width="1" height="12" fill="#6a4a1a" shape-rendering="crispEdges"/>
<path d="M1300.5 68 L1309.5 68 L1305.0 77 Z" fill="#f8a623"/>
<rect x="1305" y="68" width="1" height="12" fill="#6a4a1a" shape-rendering="crispEdges"/>
<path d="M1330.5 68 L1339.5 68 L1335.0 77 Z" fill="#f8a623"/>
<rect x="1335" y="68" width="1" height="12" fill="#6a4a1a" shape-rendering="crispEdges"/>
<path d="M1360.5 68 L1369.5 68 L1365.0 77 Z" fill="#f8a623"/>
<rect x="1365" y="68" width="1" height="12" fill="#6a4a1a" shape-rendering="crispEdges"/>
<path d="M1390.5 68 L1399.5 68 L1395.0 77 Z" fill="#f8a623"/>
<rect x="1395" y="68" width="1" height="12" fill="#6a4a1a" shape-rendering="crispEdges"/>
<path d="M1420.5 68 L1429.5 68 L1425.0 77 Z" fill="#f8a623"/>
<rect x="1425" y="68" width="1" height="12" fill="#6a4a1a" shape-rendering="crispEdges"/>
<path d="M1450.5 68 L1459.5 68 L1455.0 77 Z" fill="#f8a623"/>
<rect x="1455" y="68" width="1" height="12" fill="#6a4a1a" shape-rendering="crispEdges"/>
<path d="M1480.5 68 L1489.5 68 L1485.0 77 Z" fill="#f8a623"/>
<rect x="1485" y="68" width="1" height="12" fill="#6a4a1a" shape-rendering="crispEdges"/>
<path d="M126.0 68 L135.0 68 L130.5 77 Z" fill="#f8a623"/>
<rect x="130" y="68" width="1" height="12" fill="#6a4a1a" shape-rendering="crispEdges"/>
<path d="M276.0 68 L285.0 68 L280.5 77 Z" fill="#f8a623"/>
<rect x="280" y="68" width="1" height="12" fill="#6a4a1a" shape-rendering="crispEdges"/>
<path d="M426.0 68 L435.0 68 L430.5 77 Z" fill="#f8a623"/>
<rect x="430" y="68" width="1" height="12" fill="#6a4a1a" shape-rendering="crispEdges"/>
<path d="M576.0 68 L585.0 68 L580.5 77 Z" fill="#f8a623"/>
<rect x="580" y="68" width="1" height="12" fill="#6a4a1a" shape-rendering="crispEdges"/>
<path d="M726.0 68 L735.0 68 L730.5 77 Z" fill="#f8a623"/>
<rect x="730" y="68" width="1" height="12" fill="#6a4a1a" shape-rendering="crispEdges"/>
<path d="M876.0 68 L885.0 68 L880.5 77 Z" fill="#f8a623"/>
<rect x="880" y="68" width="1" height="12" fill="#6a4a1a" shape-rendering="crispEdges"/>
<path d="M1026.0 68 L1035.0 68 L1030.5 77 Z" fill="#f8a623"/>
<rect x="1030" y="68" width="1" height="12" fill="#6a4a1a" shape-rendering="crispEdges"/>
<path d="M1176.0 68 L1185.0 68 L1180.5 77 Z" fill="#f8a623"/>
<rect x="1180" y="68" width="1" height="12" fill="#6a4a1a" shape-rendering="crispEdges"/>
<text x="45" y="62" font-size="11.5" fill="#30307a" text-anchor="middle" letter-spacing="0.6">07/19</text>
<text x="105" y="62" font-size="11.5" fill="#30307a" text-anchor="middle" letter-spacing="0.6">07/21</text>
<text x="165" y="62" font-size="11.5" fill="#30307a" text-anchor="middle" letter-spacing="0.6">07/25</text>
<text x="225" y="62" font-size="11.5" fill="#30307a" text-anchor="middle" letter-spacing="0.6">07/27</text>
<text x="315" y="62" font-size="11.5" fill="#30307a" text-anchor="middle" letter-spacing="0.6">Aug</text>
<text x="375" y="62" font-size="11.5" fill="#30307a" text-anchor="middle" letter-spacing="0.6">08/03</text>
<text x="430.5" y="62" font-size="11.5" fill="#30307a" text-anchor="middle" letter-spacing="0.6">08/06</text>
<text x="495" y="62" font-size="11.5" fill="#30307a" text-anchor="middle" letter-spacing="0.6">08/09</text>
<text x="555" y="62" font-size="11.5" fill="#30307a" text-anchor="middle" letter-spacing="0.6">08/11</text>
<text x="615" y="62" font-size="11.5" fill="#30307a" text-anchor="middle" letter-spacing="0.6">08/15</text>
<text x="675" y="62" font-size="11.5" fill="#30307a" text-anchor="middle" letter-spacing="0.6">08/17</text>
<text x="730.5" y="62" font-size="11.5" fill="#30307a" text-anchor="middle" letter-spacing="0.6">08/20</text>
<text x="795" y="62" font-size="11.5" fill="#30307a" text-anchor="middle" letter-spacing="0.6">08/23</text>
<text x="855" y="62" font-size="11.5" fill="#30307a" text-anchor="middle" letter-spacing="0.6">08/25</text>
<text x="915" y="62" font-size="11.5" fill="#30307a" text-anchor="middle" letter-spacing="0.6">08/29</text>
<text x="1005" y="62" font-size="11.5" fill="#30307a" text-anchor="middle" letter-spacing="0.6">Sep</text>
<text x="1065" y="62" font-size="11.5" fill="#30307a" text-anchor="middle" letter-spacing="0.6">09/05</text>
<text x="1125" y="62" font-size="11.5" fill="#30307a" text-anchor="middle" letter-spacing="0.6">09/07</text>
<text x="1180.5" y="62" font-size="11.5" fill="#30307a" text-anchor="middle" letter-spacing="0.6">09/10</text>
<text x="1245" y="62" font-size="11.5" fill="#30307a" text-anchor="middle" letter-spacing="0.6">09/13</text>
<text x="1305" y="62" font-size="11.5" fill="#30307a" text-anchor="middle" letter-spacing="0.6">09/15</text>
<text x="1365" y="62" font-size="11.5" fill="#30307a" text-anchor="middle" letter-spacing="0.6">09/17</text>
<text x="1425" y="62" font-size="11.5" fill="#30307a" text-anchor="middle" letter-spacing="0.6">09/19</text>
<text x="1485" y="62" font-size="11.5" fill="#30307a" text-anchor="middle" letter-spacing="0.6">09/21</text>
<g shape-rendering="crispEdges">
<rect x="0" y="80" width="1828" height="1" fill="#c6d0de"/>
<rect x="1827" y="80" width="1" height="415" fill="#c6d0de"/>
<rect x="0" y="494" width="1828" height="1" fill="#c6d0de"/>
<rect x="1900" y="48" width="1" height="905" fill="#d4dae4"/>
<rect x="1901" y="48" width="3" height="905" fill="#f4f4f8"/>
<rect x="1842" y="67" width="1" height="441" fill="#3c3c3c"/>
<rect x="1835" y="95" width="7" height="1" fill="#3c3c3c"/>
<rect x="1835" y="109" width="7" height="1" fill="#3c3c3c"/>
<rect x="1835" y="123" width="7" height="1" fill="#3c3c3c"/>
<rect x="1835" y="138" width="7" height="1" fill="#3c3c3c"/>
<rect x="1835" y="152" width="7" height="1" fill="#3c3c3c"/>
<rect x="1828" y="166" width="14" height="1" fill="#3c3c3c"/>
<rect x="1835" y="180" width="7" height="1" fill="#3c3c3c"/>
<rect x="1835" y="194" width="7" height="1" fill="#3c3c3c"/>
<rect x="1835" y="208" width="7" height="1" fill="#3c3c3c"/>
<rect x="1835" y="222" width="7" height="1" fill="#3c3c3c"/>
<rect x="1835" y="237" width="7" height="1" fill="#3c3c3c"/>
<rect x="1835" y="251" width="7" height="1" fill="#3c3c3c"/>
<rect x="1835" y="265" width="7" height="1" fill="#3c3c3c"/>
<rect x="1835" y="279" width="7" height="1" fill="#3c3c3c"/>
<rect x="1835" y="293" width="7" height="1" fill="#3c3c3c"/>
<rect x="1828" y="307" width="14" height="1" fill="#3c3c3c"/>
<rect x="1835" y="321" width="7" height="1" fill="#3c3c3c"/>
<rect x="1835" y="336" width="7" height="1" fill="#3c3c3c"/>
<rect x="1835" y="350" width="7" height="1" fill="#3c3c3c"/>
<rect x="1835" y="364" width="7" height="1" fill="#3c3c3c"/>
<rect x="1835" y="378" width="7" height="1" fill="#3c3c3c"/>
<rect x="1835" y="392" width="7" height="1" fill="#3c3c3c"/>
<rect x="1835" y="406" width="7" height="1" fill="#3c3c3c"/>
<rect x="1835" y="420" width="7" height="1" fill="#3c3c3c"/>
<rect x="1835" y="435" width="7" height="1" fill="#3c3c3c"/>
<rect x="1828" y="449" width="14" height="1" fill="#3c3c3c"/>
<rect x="1835" y="463" width="7" height="1" fill="#3c3c3c"/>
<rect x="1835" y="477" width="7" height="1" fill="#3c3c3c"/>
<rect x="1835" y="491" width="7" height="1" fill="#3c3c3c"/>
<rect x="0" y="507" width="1843" height="1" fill="#3c3c3c"/>
<rect x="2" y="501" width="1" height="6" fill="#3c3c3c"/>
<rect x="17" y="504" width="1" height="3" fill="#3c3c3c"/>
<rect x="31" y="501" width="1" height="6" fill="#3c3c3c"/>
<rect x="46" y="504" width="1" height="3" fill="#3c3c3c"/>
<rect x="60" y="495" width="1" height="12" fill="#3c3c3c"/>
<rect x="74" y="504" width="1" height="3" fill="#3c3c3c"/>
<rect x="89" y="501" width="1" height="6" fill="#3c3c3c"/>
<rect x="103" y="504" width="1" height="3" fill="#3c3c3c"/>
<rect x="118" y="501" width="1" height="6" fill="#3c3c3c"/>
<rect x="132" y="504" width="1" height="3" fill="#3c3c3c"/>
<rect x="146" y="501" width="1" height="6" fill="#3c3c3c"/>
<rect x="161" y="504" width="1" height="3" fill="#3c3c3c"/>
<rect x="175" y="495" width="1" height="12" fill="#3c3c3c"/>
<rect x="189" y="504" width="1" height="3" fill="#3c3c3c"/>
<rect x="204" y="501" width="1" height="6" fill="#3c3c3c"/>
<rect x="218" y="504" width="1" height="3" fill="#3c3c3c"/>
<rect x="232" y="501" width="1" height="6" fill="#3c3c3c"/>
<rect x="247" y="504" width="1" height="3" fill="#3c3c3c"/>
<rect x="261" y="501" width="1" height="6" fill="#3c3c3c"/>
<rect x="276" y="504" width="1" height="3" fill="#3c3c3c"/>
<rect x="290" y="495" width="1" height="12" fill="#3c3c3c"/>
<rect x="304" y="504" width="1" height="3" fill="#3c3c3c"/>
<rect x="319" y="501" width="1" height="6" fill="#3c3c3c"/>
<rect x="333" y="504" width="1" height="3" fill="#3c3c3c"/>
<rect x="348" y="501" width="1" height="6" fill="#3c3c3c"/>
<rect x="362" y="504" width="1" height="3" fill="#3c3c3c"/>
<rect x="376" y="501" width="1" height="6" fill="#3c3c3c"/>
<rect x="391" y="504" width="1" height="3" fill="#3c3c3c"/>
<rect x="405" y="495" width="1" height="12" fill="#3c3c3c"/>
<rect x="419" y="504" width="1" height="3" fill="#3c3c3c"/>
<rect x="434" y="501" width="1" height="6" fill="#3c3c3c"/>
<rect x="448" y="504" width="1" height="3" fill="#3c3c3c"/>
<rect x="462" y="501" width="1" height="6" fill="#3c3c3c"/>
<rect x="477" y="504" width="1" height="3" fill="#3c3c3c"/>
<rect x="491" y="501" width="1" height="6" fill="#3c3c3c"/>
<rect x="506" y="504" width="1" height="3" fill="#3c3c3c"/>
<rect x="520" y="495" width="1" height="12" fill="#3c3c3c"/>
<rect x="534" y="504" width="1" height="3" fill="#3c3c3c"/>
<rect x="549" y="501" width="1" height="6" fill="#3c3c3c"/>
<rect x="563" y="504" width="1" height="3" fill="#3c3c3c"/>
<rect x="578" y="501" width="1" height="6" fill="#3c3c3c"/>
<rect x="592" y="504" width="1" height="3" fill="#3c3c3c"/>
<rect x="606" y="501" width="1" height="6" fill="#3c3c3c"/>
<rect x="621" y="504" width="1" height="3" fill="#3c3c3c"/>
<rect x="635" y="495" width="1" height="12" fill="#3c3c3c"/>
<rect x="649" y="504" width="1" height="3" fill="#3c3c3c"/>
<rect x="664" y="501" width="1" height="6" fill="#3c3c3c"/>
<rect x="678" y="504" width="1" height="3" fill="#3c3c3c"/>
<rect x="692" y="501" width="1" height="6" fill="#3c3c3c"/>
<rect x="707" y="504" width="1" height="3" fill="#3c3c3c"/>
<rect x="721" y="501" width="1" height="6" fill="#3c3c3c"/>
<rect x="736" y="504" width="1" height="3" fill="#3c3c3c"/>
<rect x="750" y="495" width="1" height="12" fill="#3c3c3c"/>
<rect x="764" y="504" width="1" height="3" fill="#3c3c3c"/>
<rect x="779" y="501" width="1" height="6" fill="#3c3c3c"/>
<rect x="793" y="504" width="1" height="3" fill="#3c3c3c"/>
<rect x="808" y="501" width="1" height="6" fill="#3c3c3c"/>
<rect x="822" y="504" width="1" height="3" fill="#3c3c3c"/>
<rect x="836" y="501" width="1" height="6" fill="#3c3c3c"/>
<rect x="851" y="504" width="1" height="3" fill="#3c3c3c"/>
<rect x="865" y="495" width="1" height="12" fill="#3c3c3c"/>
<rect x="879" y="504" width="1" height="3" fill="#3c3c3c"/>
<rect x="894" y="501" width="1" height="6" fill="#3c3c3c"/>
<rect x="908" y="504" width="1" height="3" fill="#3c3c3c"/>
<rect x="922" y="501" width="1" height="6" fill="#3c3c3c"/>
<rect x="937" y="504" width="1" height="3" fill="#3c3c3c"/>
<rect x="951" y="501" width="1" height="6" fill="#3c3c3c"/>
<rect x="966" y="504" width="1" height="3" fill="#3c3c3c"/>
<rect x="980" y="495" width="1" height="12" fill="#3c3c3c"/>
<rect x="994" y="504" width="1" height="3" fill="#3c3c3c"/>
<rect x="1009" y="501" width="1" height="6" fill="#3c3c3c"/>
<rect x="1023" y="504" width="1" height="3" fill="#3c3c3c"/>
<rect x="1038" y="501" width="1" height="6" fill="#3c3c3c"/>
<rect x="1052" y="504" width="1" height="3" fill="#3c3c3c"/>
<rect x="1066" y="501" width="1" height="6" fill="#3c3c3c"/>
<rect x="1081" y="504" width="1" height="3" fill="#3c3c3c"/>
<rect x="1095" y="495" width="1" height="12" fill="#3c3c3c"/>
<rect x="1109" y="504" width="1" height="3" fill="#3c3c3c"/>
<rect x="1124" y="501" width="1" height="6" fill="#3c3c3c"/>
<rect x="1138" y="504" width="1" height="3" fill="#3c3c3c"/>
<rect x="1152" y="501" width="1" height="6" fill="#3c3c3c"/>
<rect x="1167" y="504" width="1" height="3" fill="#3c3c3c"/>
<rect x="1181" y="501" width="1" height="6" fill="#3c3c3c"/>
<rect x="1196" y="504" width="1" height="3" fill="#3c3c3c"/>
<rect x="1210" y="495" width="1" height="12" fill="#3c3c3c"/>
<rect x="1224" y="504" width="1" height="3" fill="#3c3c3c"/>
<rect x="1239" y="501" width="1" height="6" fill="#3c3c3c"/>
<rect x="1253" y="504" width="1" height="3" fill="#3c3c3c"/>
<rect x="1268" y="501" width="1" height="6" fill="#3c3c3c"/>
<rect x="1282" y="504" width="1" height="3" fill="#3c3c3c"/>
<rect x="1296" y="501" width="1" height="6" fill="#3c3c3c"/>
<rect x="1311" y="504" width="1" height="3" fill="#3c3c3c"/>
<rect x="1325" y="495" width="1" height="12" fill="#3c3c3c"/>
<rect x="1339" y="504" width="1" height="3" fill="#3c3c3c"/>
<rect x="1354" y="501" width="1" height="6" fill="#3c3c3c"/>
<rect x="1368" y="504" width="1" height="3" fill="#3c3c3c"/>
<rect x="1382" y="501" width="1" height="6" fill="#3c3c3c"/>
<rect x="1397" y="504" width="1" height="3" fill="#3c3c3c"/>
<rect x="1411" y="501" width="1" height="6" fill="#3c3c3c"/>
<rect x="1426" y="504" width="1" height="3" fill="#3c3c3c"/>
<rect x="1440" y="495" width="1" height="12" fill="#3c3c3c"/>
<rect x="1454" y="504" width="1" height="3" fill="#3c3c3c"/>
<rect x="1469" y="501" width="1" height="6" fill="#3c3c3c"/>
<rect x="1483" y="504" width="1" height="3" fill="#3c3c3c"/>
<rect x="1498" y="501" width="1" height="6" fill="#3c3c3c"/>
<rect x="1512" y="504" width="1" height="3" fill="#3c3c3c"/>
<rect x="1526" y="501" width="1" height="6" fill="#3c3c3c"/>
<rect x="1541" y="504" width="1" height="3" fill="#3c3c3c"/>
<rect x="1555" y="495" width="1" height="12" fill="#3c3c3c"/>
<rect x="1569" y="504" width="1" height="3" fill="#3c3c3c"/>
<rect x="1584" y="501" width="1" height="6" fill="#3c3c3c"/>
<rect x="1598" y="504" width="1" height="3" fill="#3c3c3c"/>
<rect x="1612" y="501" width="1" height="6" fill="#3c3c3c"/>
<rect x="1627" y="504" width="1" height="3" fill="#3c3c3c"/>
<rect x="1641" y="501" width="1" height="6" fill="#3c3c3c"/>
<rect x="1656" y="504" width="1" height="3" fill="#3c3c3c"/>
<rect x="1670" y="495" width="1" height="12" fill="#3c3c3c"/>
<rect x="1684" y="504" width="1" height="3" fill="#3c3c3c"/>
<rect x="1699" y="501" width="1" height="6" fill="#3c3c3c"/>
<rect x="1713" y="504" width="1" height="3" fill="#3c3c3c"/>
<rect x="1728" y="501" width="1" height="6" fill="#3c3c3c"/>
<rect x="1742" y="504" width="1" height="3" fill="#3c3c3c"/>
<rect x="1756" y="501" width="1" height="6" fill="#3c3c3c"/>
<rect x="1771" y="504" width="1" height="3" fill="#3c3c3c"/>
<rect x="1785" y="495" width="1" height="12" fill="#3c3c3c"/>
<rect x="1799" y="504" width="1" height="3" fill="#3c3c3c"/>
<rect x="1814" y="501" width="1" height="6" fill="#3c3c3c"/>
<rect x="1828" y="504" width="1" height="3" fill="#3c3c3c"/>
<rect x="0" y="533" width="1900" height="4" fill="#c3cedb"/>
<rect x="0" y="650" width="1900" height="4" fill="#c3cedb"/>
<rect x="0" y="800" width="1900" height="4" fill="#c3cedb"/>
<rect x="0" y="948" width="1904" height="2" fill="#dcdce6"/>
<rect x="0" y="951" width="1904" height="2" fill="#e2e2ec"/>
<rect x="0" y="540" width="1828" height="1" fill="#c6d0de"/>
<rect x="0" y="647" width="1828" height="1" fill="#c6d0de"/>
<rect x="1827" y="540" width="1" height="107" fill="#c6d0de"/>
<rect x="1842" y="540" width="1" height="107" fill="#3c3c3c"/>
<rect x="0" y="657" width="1828" height="1" fill="#c6d0de"/>
<rect x="0" y="797" width="1828" height="1" fill="#c6d0de"/>
<rect x="1827" y="657" width="1" height="140" fill="#c6d0de"/>
<rect x="1842" y="657" width="1" height="140" fill="#3c3c3c"/>
<rect x="0" y="807" width="1828" height="1" fill="#c6d0de"/>
<rect x="0" y="947" width="1828" height="1" fill="#c6d0de"/>
<rect x="1827" y="807" width="1" height="140" fill="#c6d0de"/>
<rect x="1842" y="807" width="1" height="140" fill="#3c3c3c"/>
</g>
<text x="1846" y="169.8" font-size="11.5" fill="#30307a" letter-spacing="0.65">112.50</text>
<text x="1846" y="311.4" font-size="11.5" fill="#30307a" letter-spacing="0.65">110.00</text>
<text x="1846" y="452.5" font-size="11.5" fill="#30307a" letter-spacing="0.65">107.50</text>
<text x="175" y="525" font-size="11.5" fill="#30307a" text-anchor="middle" letter-spacing="0.75">07/25 05:00</text>
<text x="290" y="525" font-size="11.5" fill="#30307a" text-anchor="middle" letter-spacing="0.75">07/31 01:00</text>
<text x="405" y="525" font-size="11.5" fill="#30307a" text-anchor="middle" letter-spacing="0.75">08/03 21:00</text>
<text x="520" y="525" font-size="11.5" fill="#30307a" text-anchor="middle" letter-spacing="0.75">08/09 17:00</text>
<text x="635" y="525" font-size="11.5" fill="#30307a" text-anchor="middle" letter-spacing="0.75">08/15 13:00</text>
<text x="750" y="525" font-size="11.5" fill="#30307a" text-anchor="middle" letter-spacing="0.75">08/21 09:00</text>
<text x="865" y="525" font-size="11.5" fill="#30307a" text-anchor="middle" letter-spacing="0.75">08/25 05:00</text>
<text x="980" y="525" font-size="11.5" fill="#30307a" text-anchor="middle" letter-spacing="0.75">08/31 01:00</text>
<text x="1095" y="525" font-size="11.5" fill="#30307a" text-anchor="middle" letter-spacing="0.75">09/05 21:00</text>
<text x="1210" y="525" font-size="11.5" fill="#30307a" text-anchor="middle" letter-spacing="0.75">09/11 17:00</text>
<text x="1325" y="525" font-size="11.5" fill="#30307a" text-anchor="middle" letter-spacing="0.75">09/15 13:00</text>
<text x="1440" y="525" font-size="11.5" fill="#30307a" text-anchor="middle" letter-spacing="0.75">09/19 09:00</text>
<text x="1555" y="525" font-size="11.5" fill="#30307a" text-anchor="middle" letter-spacing="0.75">09/23 05:00</text>
<text x="1670" y="525" font-size="11.5" fill="#30307a" text-anchor="middle" letter-spacing="0.75">09/27 01:00</text>
<text x="1785" y="525" font-size="11.5" fill="#30307a" text-anchor="middle" letter-spacing="0.75">09/30 21:00</text>
<text x="-1" y="525" font-size="11.5" fill="#30307a" letter-spacing="0.75">07/17/20</text>
<rect x="48" y="512" width="106" height="16" fill="#8891b4" shape-rendering="crispEdges"/>
<text x="101" y="525" font-size="11.5" fill="#000" text-anchor="middle" letter-spacing="0.85">07/20/2017 17:00</text>
<rect x="404" y="512" width="105" height="16" fill="#f7a11a" shape-rendering="crispEdges"/>
<text x="456.5" y="525" font-size="11.5" fill="#000" text-anchor="middle" letter-spacing="0.85">08/07/2017 13:00</text>
<g>
<path d="M452.5 81 V494 M457.5 81 V494 M452.5 541 V647 M457.5 541 V647 M452.5 658 V797 M457.5 658 V797 M452.5 808 V947 M457.5 808 V947" stroke="#d4d4d4" stroke-width="1" stroke-dasharray="3,3"/>
<path d="M3 264.5 H1322" stroke="#9cc47e" stroke-width="1" stroke-dasharray="3,3"/><path d="M1322 264.5 H1827" stroke="#9cc47e" stroke-width="1" stroke-dasharray="9,6,3,6" stroke-dashoffset="0"/>
<path d="M3 338.5 H1322" stroke="#f05050" stroke-width="1" stroke-dasharray="3,3"/><path d="M1322 338.5 H1827" stroke="#f05050" stroke-width="1" stroke-dasharray="9,6,3,6" stroke-dashoffset="0"/>
<path d="M212 184.5 L1425 330.7" stroke="#8890b8" stroke-width="1"/>
</g>
<rect x="100" y="81" width="1" height="413" fill="#8890b8" shape-rendering="crispEdges"/>
<rect x="100" y="541" width="1" height="106" fill="#8890b8" shape-rendering="crispEdges"/>
<rect x="100" y="658" width="1" height="139" fill="#8890b8" shape-rendering="crispEdges"/>
<rect x="100" y="808" width="1" height="139" fill="#8890b8" shape-rendering="crispEdges"/>
<g shape-rendering="crispEdges">
<rect x="0" y="144" width="1" height="32" fill="#0a5fd0"/>
<rect x="-1" y="145" width="3" height="29" fill="#0a5fd0"/>
<rect x="5" y="152" width="1" height="10" fill="#e00000"/>
<rect x="4" y="153" width="3" height="8" fill="#e00000"/>
<rect x="10" y="160" width="1" height="12" fill="#e00000"/>
<rect x="9" y="161" width="3" height="10" fill="#e00000"/>
<rect x="15" y="169" width="1" height="25" fill="#e00000"/>
<rect x="14" y="170" width="3" height="21" fill="#e00000"/>
<rect x="20" y="173" width="1" height="19" fill="#0a5fd0"/>
<rect x="19" y="176" width="3" height="15" fill="#0a5fd0"/>
<rect x="25" y="175" width="1" height="32" fill="#e00000"/>
<rect x="24" y="176" width="3" height="26" fill="#e00000"/>
<rect x="30" y="189" width="1" height="22" fill="#0a5fd0"/>
<rect x="29" y="191" width="3" height="11" fill="#0a5fd0"/>
<rect x="35" y="188" width="1" height="6" fill="#e00000"/>
<rect x="34" y="189" width="3" height="4" fill="#e00000"/>
<rect x="40" y="188" width="1" height="12" fill="#e00000"/>
<rect x="39" y="193" width="3" height="2" fill="#e00000"/>
<rect x="45" y="187" width="1" height="7" fill="#0a5fd0"/>
<rect x="44" y="191" width="3" height="2" fill="#0a5fd0"/>
<rect x="50" y="181" width="1" height="14" fill="#e00000"/>
<rect x="49" y="192" width="3" height="2" fill="#e00000"/>
<rect x="55" y="190" width="1" height="28" fill="#e00000"/>
<rect x="54" y="191" width="3" height="24" fill="#e00000"/>
<rect x="60" y="203" width="1" height="16" fill="#0a5fd0"/>
<rect x="59" y="210" width="3" height="5" fill="#0a5fd0"/>
<rect x="65" y="196" width="1" height="15" fill="#0a5fd0"/>
<rect x="64" y="198" width="3" height="13" fill="#0a5fd0"/>
<rect x="70" y="197" width="1" height="9" fill="#e00000"/>
<rect x="69" y="198" width="3" height="6" fill="#e00000"/>
<rect x="75" y="185" width="1" height="22" fill="#0a5fd0"/>
<rect x="74" y="191" width="3" height="14" fill="#0a5fd0"/>
<rect x="80" y="173" width="1" height="21" fill="#0a5fd0"/>
<rect x="79" y="175" width="3" height="17" fill="#0a5fd0"/>
<rect x="85" y="171" width="1" height="14" fill="#e00000"/>
<rect x="84" y="175" width="3" height="7" fill="#e00000"/>
<rect x="90" y="179" width="1" height="44" fill="#e00000"/>
<rect x="89" y="181" width="3" height="29" fill="#e00000"/>
<rect x="95" y="198" width="1" height="13" fill="#0a5fd0"/>
<rect x="94" y="200" width="3" height="10" fill="#0a5fd0"/>
<rect x="100" y="193" width="1" height="10" fill="#0a5fd0"/>
<rect x="99" y="194" width="3" height="7" fill="#0a5fd0"/>
<rect x="105" y="190" width="1" height="12" fill="#e00000"/>
<rect x="104" y="195" width="3" height="2" fill="#e00000"/>
<rect x="110" y="202" width="1" height="9" fill="#e00000"/>
<rect x="109" y="203" width="3" height="5" fill="#e00000"/>
<rect x="115" y="208" width="1" height="26" fill="#e00000"/>
<rect x="114" y="208" width="3" height="24" fill="#e00000"/>
<rect x="120" y="228" width="1" height="18" fill="#e00000"/>
<rect x="119" y="231" width="3" height="15" fill="#e00000"/>
<rect x="125" y="242" width="1" height="12" fill="#e00000"/>
<rect x="124" y="246" width="3" height="8" fill="#e00000"/>
<rect x="130" y="249" width="1" height="13" fill="#e00000"/>
<rect x="129" y="250" width="3" height="8" fill="#e00000"/>
<rect x="135" y="250" width="1" height="10" fill="#0a5fd0"/>
<rect x="134" y="252" width="3" height="5" fill="#0a5fd0"/>
<rect x="140" y="258" width="1" height="9" fill="#e00000"/>
<rect x="139" y="258" width="3" height="9" fill="#e00000"/>
<rect x="145" y="259" width="1" height="13" fill="#0a5fd0"/>
<rect x="144" y="260" width="3" height="6" fill="#0a5fd0"/>
<rect x="150" y="233" width="1" height="28" fill="#0a5fd0"/>
<rect x="149" y="244" width="3" height="17" fill="#0a5fd0"/>
<rect x="155" y="236" width="1" height="14" fill="#e00000"/>
<rect x="154" y="240" width="3" height="10" fill="#e00000"/>
<rect x="160" y="232" width="1" height="9" fill="#0a5fd0"/>
<rect x="159" y="234" width="3" height="6" fill="#0a5fd0"/>
<rect x="165" y="233" width="1" height="21" fill="#e00000"/>
<rect x="164" y="234" width="3" height="18" fill="#e00000"/>
<rect x="170" y="233" width="1" height="27" fill="#0a5fd0"/>
<rect x="169" y="236" width="3" height="15" fill="#0a5fd0"/>
<rect x="175" y="219" width="1" height="21" fill="#0a5fd0"/>
<rect x="174" y="220" width="3" height="17" fill="#0a5fd0"/>
<rect x="180" y="213" width="1" height="9" fill="#0a5fd0"/>
<rect x="179" y="214" width="3" height="6" fill="#0a5fd0"/>
<rect x="185" y="198" width="1" height="19" fill="#0a5fd0"/>
<rect x="184" y="201" width="3" height="14" fill="#0a5fd0"/>
<rect x="190" y="190" width="1" height="13" fill="#0a5fd0"/>
<rect x="189" y="199" width="3" height="3" fill="#0a5fd0"/>
<rect x="195" y="192" width="1" height="12" fill="#e00000"/>
<rect x="194" y="199" width="3" height="2" fill="#e00000"/>
<rect x="200" y="196" width="1" height="10" fill="#e00000"/>
<rect x="199" y="200" width="3" height="2" fill="#e00000"/>
<rect x="205" y="202" width="1" height="8" fill="#e00000"/>
<rect x="204" y="203" width="3" height="5" fill="#e00000"/>
<rect x="210" y="184" width="1" height="26" fill="#0a5fd0"/>
<rect x="209" y="185" width="3" height="23" fill="#0a5fd0"/>
<rect x="215" y="185" width="1" height="62" fill="#e00000"/>
<rect x="214" y="185" width="3" height="56" fill="#e00000"/>
<rect x="220" y="239" width="1" height="21" fill="#e00000"/>
<rect x="219" y="241" width="3" height="17" fill="#e00000"/>
<rect x="225" y="243" width="1" height="13" fill="#0a5fd0"/>
<rect x="224" y="247" width="3" height="3" fill="#0a5fd0"/>
<rect x="230" y="237" width="1" height="19" fill="#0a5fd0"/>
<rect x="229" y="237" width="3" height="14" fill="#0a5fd0"/>
<rect x="235" y="224" width="1" height="14" fill="#0a5fd0"/>
<rect x="234" y="225" width="3" height="13" fill="#0a5fd0"/>
<rect x="240" y="212" width="1" height="22" fill="#e00000"/>
<rect x="239" y="226" width="3" height="7" fill="#e00000"/>
<rect x="245" y="229" width="1" height="24" fill="#e00000"/>
<rect x="244" y="232" width="3" height="4" fill="#e00000"/>
<rect x="250" y="233" width="1" height="21" fill="#e00000"/>
<rect x="249" y="238" width="3" height="13" fill="#e00000"/>
<rect x="255" y="242" width="1" height="13" fill="#0a5fd0"/>
<rect x="254" y="245" width="3" height="6" fill="#0a5fd0"/>
<rect x="260" y="234" width="1" height="22" fill="#0a5fd0"/>
<rect x="259" y="235" width="3" height="11" fill="#0a5fd0"/>
<rect x="265" y="235" width="1" height="24" fill="#e00000"/>
<rect x="264" y="235" width="3" height="8" fill="#e00000"/>
<rect x="270" y="241" width="1" height="27" fill="#e00000"/>
<rect x="269" y="243" width="3" height="16" fill="#e00000"/>
<rect x="275" y="258" width="1" height="18" fill="#e00000"/>
<rect x="274" y="259" width="3" height="9" fill="#e00000"/>
<rect x="280" y="268" width="1" height="20" fill="#e00000"/>
<rect x="279" y="270" width="3" height="14" fill="#e00000"/>
<rect x="285" y="274" width="1" height="12" fill="#0a5fd0"/>
<rect x="284" y="278" width="3" height="7" fill="#0a5fd0"/>
<rect x="290" y="264" width="1" height="16" fill="#0a5fd0"/>
<rect x="289" y="272" width="3" height="7" fill="#0a5fd0"/>
<rect x="295" y="270" width="1" height="9" fill="#e00000"/>
<rect x="294" y="271" width="3" height="7" fill="#e00000"/>
<rect x="300" y="271" width="1" height="16" fill="#e00000"/>
<rect x="299" y="279" width="3" height="5" fill="#e00000"/>
<rect x="305" y="282" width="1" height="13" fill="#e00000"/>
<rect x="304" y="283" width="3" height="9" fill="#e00000"/>
<rect x="310" y="284" width="1" height="11" fill="#0a5fd0"/>
<rect x="309" y="291" width="3" height="2" fill="#0a5fd0"/>
<rect x="315" y="284" width="1" height="23" fill="#e00000"/>
<rect x="314" y="292" width="3" height="4" fill="#e00000"/>
<rect x="320" y="285" width="1" height="16" fill="#0a5fd0"/>
<rect x="319" y="286" width="3" height="10" fill="#0a5fd0"/>
<rect x="325" y="274" width="1" height="12" fill="#0a5fd0"/>
<rect x="324" y="281" width="3" height="5" fill="#0a5fd0"/>
<rect x="330" y="277" width="1" height="34" fill="#e00000"/>
<rect x="329" y="281" width="3" height="11" fill="#e00000"/>
<rect x="335" y="285" width="1" height="13" fill="#0a5fd0"/>
<rect x="334" y="285" width="3" height="7" fill="#0a5fd0"/>
<rect x="340" y="280" width="1" height="10" fill="#0a5fd0"/>
<rect x="339" y="283" width="3" height="3" fill="#0a5fd0"/>
<rect x="345" y="256" width="1" height="30" fill="#0a5fd0"/>
<rect x="344" y="259" width="3" height="25" fill="#0a5fd0"/>
<rect x="350" y="257" width="1" height="15" fill="#e00000"/>
<rect x="349" y="259" width="3" height="7" fill="#e00000"/>
<rect x="355" y="255" width="1" height="11" fill="#0a5fd0"/>
<rect x="354" y="256" width="3" height="10" fill="#0a5fd0"/>
<rect x="360" y="255" width="1" height="36" fill="#e00000"/>
<rect x="359" y="256" width="3" height="28" fill="#e00000"/>
<rect x="365" y="264" width="1" height="26" fill="#0a5fd0"/>
<rect x="364" y="265" width="3" height="19" fill="#0a5fd0"/>
<rect x="370" y="261" width="1" height="9" fill="#0a5fd0"/>
<rect x="369" y="263" width="3" height="2" fill="#0a5fd0"/>
<rect x="375" y="261" width="1" height="13" fill="#e00000"/>
<rect x="374" y="263" width="3" height="4" fill="#e00000"/>
<rect x="380" y="265" width="1" height="10" fill="#e00000"/>
<rect x="379" y="270" width="3" height="2" fill="#e00000"/>
<rect x="385" y="270" width="1" height="22" fill="#e00000"/>
<rect x="384" y="271" width="3" height="11" fill="#e00000"/>
<rect x="390" y="278" width="1" height="31" fill="#e00000"/>
<rect x="389" y="281" width="3" height="17" fill="#e00000"/>
<rect x="395" y="295" width="1" height="20" fill="#e00000"/>
<rect x="394" y="297" width="3" height="8" fill="#e00000"/>
<rect x="400" y="303" width="1" height="13" fill="#e00000"/>
<rect x="399" y="304" width="3" height="2" fill="#e00000"/>
<rect x="405" y="301" width="1" height="5" fill="#0a5fd0"/>
<rect x="404" y="302" width="3" height="4" fill="#0a5fd0"/>
<rect x="410" y="298" width="1" height="7" fill="#0a5fd0"/>
<rect x="409" y="300" width="3" height="2" fill="#0a5fd0"/>
<rect x="415" y="263" width="1" height="44" fill="#0a5fd0"/>
<rect x="414" y="264" width="3" height="37" fill="#0a5fd0"/>
<rect x="420" y="248" width="1" height="29" fill="#0a5fd0"/>
<rect x="419" y="261" width="3" height="3" fill="#0a5fd0"/>
<rect x="425" y="260" width="1" height="14" fill="#e00000"/>
<rect x="424" y="261" width="3" height="8" fill="#e00000"/>
<rect x="430" y="263" width="1" height="5" fill="#0a5fd0"/>
<rect x="429" y="265" width="3" height="3" fill="#0a5fd0"/>
<rect x="435" y="262" width="1" height="8" fill="#e00000"/>
<rect x="434" y="264" width="3" height="5" fill="#e00000"/>
<rect x="440" y="260" width="1" height="10" fill="#0a5fd0"/>
<rect x="439" y="265" width="3" height="3" fill="#0a5fd0"/>
<rect x="445" y="257" width="1" height="7" fill="#0a5fd0"/>
<rect x="444" y="259" width="3" height="5" fill="#0a5fd0"/>
<rect x="450" y="256" width="1" height="8" fill="#e00000"/>
<rect x="449" y="259" width="3" height="4" fill="#e00000"/>
<rect x="455" y="263" width="1" height="5" fill="#e00000"/>
<rect x="454" y="264" width="3" height="3" fill="#e00000"/>
<rect x="460" y="262" width="1" height="7" fill="#0a5fd0"/>
<rect x="459" y="264" width="3" height="2" fill="#0a5fd0"/>
<rect x="465" y="265" width="1" height="10" fill="#e00000"/>
<rect x="464" y="266" width="3" height="8" fill="#e00000"/>
<rect x="470" y="272" width="1" height="4" fill="#e00000"/>
<rect x="469" y="273" width="3" height="3" fill="#e00000"/>
<rect x="475" y="275" width="1" height="18" fill="#e00000"/>
<rect x="474" y="276" width="3" height="11" fill="#e00000"/>
<rect x="480" y="261" width="1" height="30" fill="#0a5fd0"/>
<rect x="479" y="279" width="3" height="8" fill="#0a5fd0"/>
<rect x="485" y="276" width="1" height="13" fill="#e00000"/>
<rect x="484" y="280" width="3" height="9" fill="#e00000"/>
<rect x="490" y="288" width="1" height="28" fill="#e00000"/>
<rect x="489" y="289" width="3" height="23" fill="#e00000"/>
<rect x="495" y="309" width="1" height="12" fill="#0a5fd0"/>
<rect x="494" y="311" width="3" height="2" fill="#0a5fd0"/>
<rect x="500" y="304" width="1" height="21" fill="#e00000"/>
<rect x="499" y="310" width="3" height="13" fill="#e00000"/>
<rect x="505" y="316" width="1" height="10" fill="#e00000"/>
<rect x="504" y="322" width="3" height="4" fill="#e00000"/>
<rect x="510" y="298" width="1" height="28" fill="#0a5fd0"/>
<rect x="509" y="310" width="3" height="15" fill="#0a5fd0"/>
<rect x="515" y="302" width="1" height="19" fill="#0a5fd0"/>
<rect x="514" y="304" width="3" height="7" fill="#0a5fd0"/>
<rect x="520" y="298" width="1" height="11" fill="#0a5fd0"/>
<rect x="519" y="301" width="3" height="4" fill="#0a5fd0"/>
<rect x="525" y="299" width="1" height="13" fill="#e00000"/>
<rect x="524" y="301" width="3" height="6" fill="#e00000"/>
<rect x="530" y="303" width="1" height="10" fill="#e00000"/>
<rect x="529" y="306" width="3" height="6" fill="#e00000"/>
<rect x="535" y="308" width="1" height="23" fill="#e00000"/>
<rect x="534" y="310" width="3" height="19" fill="#e00000"/>
<rect x="540" y="324" width="1" height="28" fill="#e00000"/>
<rect x="539" y="329" width="3" height="19" fill="#e00000"/>
<rect x="545" y="344" width="1" height="11" fill="#e00000"/>
<rect x="544" y="347" width="3" height="6" fill="#e00000"/>
<rect x="550" y="351" width="1" height="13" fill="#e00000"/>
<rect x="549" y="352" width="3" height="9" fill="#e00000"/>
<rect x="555" y="358" width="1" height="11" fill="#e00000"/>
<rect x="554" y="360" width="3" height="6" fill="#e00000"/>
<rect x="560" y="349" width="1" height="20" fill="#0a5fd0"/>
<rect x="559" y="364" width="3" height="2" fill="#0a5fd0"/>
<rect x="565" y="351" width="1" height="29" fill="#0a5fd0"/>
<rect x="564" y="361" width="3" height="4" fill="#0a5fd0"/>
<rect x="570" y="342" width="1" height="24" fill="#e00000"/>
<rect x="569" y="361" width="3" height="3" fill="#e00000"/>
<rect x="575" y="354" width="1" height="13" fill="#0a5fd0"/>
<rect x="574" y="354" width="3" height="9" fill="#0a5fd0"/>
<rect x="580" y="341" width="1" height="21" fill="#0a5fd0"/>
<rect x="579" y="342" width="3" height="15" fill="#0a5fd0"/>
<rect x="585" y="328" width="1" height="16" fill="#0a5fd0"/>
<rect x="584" y="334" width="3" height="9" fill="#0a5fd0"/>
<rect x="590" y="319" width="1" height="20" fill="#0a5fd0"/>
<rect x="589" y="323" width="3" height="13" fill="#0a5fd0"/>
<rect x="595" y="320" width="1" height="11" fill="#e00000"/>
<rect x="594" y="323" width="3" height="5" fill="#e00000"/>
<rect x="600" y="324" width="1" height="15" fill="#e00000"/>
<rect x="599" y="327" width="3" height="11" fill="#e00000"/>
<rect x="605" y="322" width="1" height="17" fill="#0a5fd0"/>
<rect x="604" y="327" width="3" height="11" fill="#0a5fd0"/>
<rect x="610" y="296" width="1" height="35" fill="#0a5fd0"/>
<rect x="609" y="297" width="3" height="31" fill="#0a5fd0"/>
<rect x="615" y="292" width="1" height="7" fill="#0a5fd0"/>
<rect x="614" y="292" width="3" height="6" fill="#0a5fd0"/>
<rect x="620" y="281" width="1" height="13" fill="#0a5fd0"/>
<rect x="619" y="285" width="3" height="7" fill="#0a5fd0"/>
<rect x="625" y="259" width="1" height="28" fill="#0a5fd0"/>
<rect x="624" y="260" width="3" height="26" fill="#0a5fd0"/>
<rect x="630" y="257" width="1" height="27" fill="#e00000"/>
<rect x="629" y="260" width="3" height="22" fill="#e00000"/>
<rect x="635" y="269" width="1" height="15" fill="#0a5fd0"/>
<rect x="634" y="269" width="3" height="13" fill="#0a5fd0"/>
<rect x="640" y="265" width="1" height="10" fill="#0a5fd0"/>
<rect x="639" y="266" width="3" height="3" fill="#0a5fd0"/>
<rect x="645" y="265" width="1" height="4" fill="#e00000"/>
<rect x="644" y="266" width="3" height="2" fill="#e00000"/>
<rect x="650" y="254" width="1" height="18" fill="#0a5fd0"/>
<rect x="649" y="256" width="3" height="13" fill="#0a5fd0"/>
<rect x="655" y="256" width="1" height="7" fill="#e00000"/>
<rect x="654" y="256" width="3" height="6" fill="#e00000"/>
<rect x="660" y="254" width="1" height="13" fill="#e00000"/>
<rect x="659" y="261" width="3" height="5" fill="#e00000"/>
<rect x="665" y="265" width="1" height="40" fill="#e00000"/>
<rect x="664" y="265" width="3" height="32" fill="#e00000"/>
<rect x="670" y="296" width="1" height="20" fill="#e00000"/>
<rect x="669" y="296" width="3" height="19" fill="#e00000"/>
<rect x="675" y="311" width="1" height="15" fill="#e00000"/>
<rect x="674" y="314" width="3" height="2" fill="#e00000"/>
<rect x="680" y="304" width="1" height="16" fill="#0a5fd0"/>
<rect x="679" y="305" width="3" height="10" fill="#0a5fd0"/>
<rect x="685" y="287" width="1" height="21" fill="#0a5fd0"/>
<rect x="684" y="293" width="3" height="15" fill="#0a5fd0"/>
<rect x="690" y="291" width="1" height="38" fill="#e00000"/>
<rect x="689" y="293" width="3" height="35" fill="#e00000"/>
<rect x="695" y="317" width="1" height="21" fill="#e00000"/>
<rect x="694" y="320" width="3" height="13" fill="#e00000"/>
<rect x="700" y="331" width="1" height="15" fill="#e00000"/>
<rect x="699" y="332" width="3" height="7" fill="#e00000"/>
<rect x="705" y="333" width="1" height="16" fill="#e00000"/>
<rect x="704" y="339" width="3" height="9" fill="#e00000"/>
<rect x="710" y="347" width="1" height="19" fill="#e00000"/>
<rect x="709" y="347" width="3" height="17" fill="#e00000"/>
<rect x="715" y="354" width="1" height="20" fill="#e00000"/>
<rect x="714" y="363" width="3" height="9" fill="#e00000"/>
<rect x="720" y="331" width="1" height="44" fill="#0a5fd0"/>
<rect x="719" y="338" width="3" height="34" fill="#0a5fd0"/>
<rect x="725" y="332" width="1" height="25" fill="#e00000"/>
<rect x="724" y="338" width="3" height="17" fill="#e00000"/>
<rect x="730" y="341" width="1" height="11" fill="#0a5fd0"/>
<rect x="729" y="345" width="3" height="2" fill="#0a5fd0"/>
<rect x="735" y="344" width="1" height="10" fill="#e00000"/>
<rect x="734" y="345" width="3" height="7" fill="#e00000"/>
<rect x="740" y="349" width="1" height="20" fill="#e00000"/>
<rect x="739" y="349" width="3" height="12" fill="#e00000"/>
<rect x="745" y="356" width="1" height="13" fill="#e00000"/>
<rect x="744" y="360" width="3" height="8" fill="#e00000"/>
<rect x="750" y="366" width="1" height="9" fill="#e00000"/>
<rect x="749" y="367" width="3" height="7" fill="#e00000"/>
<rect x="755" y="364" width="1" height="11" fill="#0a5fd0"/>
<rect x="754" y="366" width="3" height="8" fill="#0a5fd0"/>
<rect x="760" y="353" width="1" height="19" fill="#0a5fd0"/>
<rect x="759" y="355" width="3" height="12" fill="#0a5fd0"/>
<rect x="765" y="346" width="1" height="10" fill="#0a5fd0"/>
<rect x="764" y="348" width="3" height="8" fill="#0a5fd0"/>
<rect x="770" y="338" width="1" height="16" fill="#0a5fd0"/>
<rect x="769" y="345" width="3" height="3" fill="#0a5fd0"/>
<rect x="775" y="337" width="1" height="11" fill="#e00000"/>
<rect x="774" y="346" width="3" height="2" fill="#e00000"/>
<rect x="780" y="334" width="1" height="22" fill="#0a5fd0"/>
<rect x="779" y="337" width="3" height="11" fill="#0a5fd0"/>
<rect x="785" y="328" width="1" height="11" fill="#0a5fd0"/>
<rect x="784" y="332" width="3" height="6" fill="#0a5fd0"/>
<rect x="790" y="317" width="1" height="17" fill="#0a5fd0"/>
<rect x="789" y="324" width="3" height="9" fill="#0a5fd0"/>
<rect x="795" y="322" width="1" height="21" fill="#e00000"/>
<rect x="794" y="324" width="3" height="12" fill="#e00000"/>
<rect x="800" y="332" width="1" height="12" fill="#e00000"/>
<rect x="799" y="337" width="3" height="3" fill="#e00000"/>
<rect x="805" y="336" width="1" height="25" fill="#e00000"/>
<rect x="804" y="340" width="3" height="18" fill="#e00000"/>
<rect x="810" y="351" width="1" height="13" fill="#0a5fd0"/>
<rect x="809" y="354" width="3" height="4" fill="#0a5fd0"/>
<rect x="815" y="353" width="1" height="15" fill="#e00000"/>
<rect x="814" y="354" width="3" height="9" fill="#e00000"/>
<rect x="820" y="351" width="1" height="21" fill="#0a5fd0"/>
<rect x="819" y="354" width="3" height="9" fill="#0a5fd0"/>
<rect x="825" y="351" width="1" height="5" fill="#e00000"/>
<rect x="824" y="352" width="3" height="2" fill="#e00000"/>
<rect x="830" y="341" width="1" height="18" fill="#0a5fd0"/>
<rect x="829" y="343" width="3" height="11" fill="#0a5fd0"/>
<rect x="835" y="338" width="1" height="10" fill="#0a5fd0"/>
<rect x="834" y="342" width="3" height="2" fill="#0a5fd0"/>
<rect x="840" y="340" width="1" height="17" fill="#e00000"/>
<rect x="839" y="341" width="3" height="11" fill="#e00000"/>
<rect x="845" y="330" width="1" height="16" fill="#0a5fd0"/>
<rect x="844" y="332" width="3" height="13" fill="#0a5fd0"/>
<rect x="850" y="317" width="1" height="18" fill="#0a5fd0"/>
<rect x="849" y="321" width="3" height="13" fill="#0a5fd0"/>
<rect x="855" y="323" width="1" height="11" fill="#e00000"/>
<rect x="854" y="323" width="3" height="9" fill="#e00000"/>
<rect x="860" y="324" width="1" height="8" fill="#0a5fd0"/>
<rect x="859" y="326" width="3" height="6" fill="#0a5fd0"/>
<rect x="865" y="321" width="1" height="11" fill="#0a5fd0"/>
<rect x="864" y="321" width="3" height="6" fill="#0a5fd0"/>
<rect x="870" y="321" width="1" height="36" fill="#e00000"/>
<rect x="869" y="323" width="3" height="30" fill="#e00000"/>
<rect x="875" y="343" width="1" height="13" fill="#0a5fd0"/>
<rect x="874" y="345" width="3" height="8" fill="#0a5fd0"/>
<rect x="880" y="343" width="1" height="16" fill="#0a5fd0"/>
<rect x="879" y="355" width="3" height="2" fill="#0a5fd0"/>
<rect x="885" y="353" width="1" height="9" fill="#e00000"/>
<rect x="884" y="355" width="3" height="2" fill="#e00000"/>
<rect x="890" y="352" width="1" height="9" fill="#0a5fd0"/>
<rect x="889" y="353" width="3" height="4" fill="#0a5fd0"/>
<rect x="895" y="344" width="1" height="11" fill="#0a5fd0"/>
<rect x="894" y="345" width="3" height="9" fill="#0a5fd0"/>
<rect x="900" y="341" width="1" height="14" fill="#e00000"/>
<rect x="899" y="345" width="3" height="8" fill="#e00000"/>
<rect x="905" y="343" width="1" height="18" fill="#0a5fd0"/>
<rect x="904" y="350" width="3" height="2" fill="#0a5fd0"/>
<rect x="910" y="349" width="1" height="52" fill="#e00000"/>
<rect x="909" y="350" width="3" height="22" fill="#e00000"/>
<rect x="915" y="368" width="1" height="15" fill="#e00000"/>
<rect x="914" y="371" width="3" height="4" fill="#e00000"/>
<rect x="920" y="373" width="1" height="25" fill="#e00000"/>
<rect x="919" y="374" width="3" height="20" fill="#e00000"/>
<rect x="925" y="384" width="1" height="21" fill="#0a5fd0"/>
<rect x="924" y="389" width="3" height="4" fill="#0a5fd0"/>
<rect x="930" y="352" width="1" height="45" fill="#0a5fd0"/>
<rect x="929" y="355" width="3" height="34" fill="#0a5fd0"/>
<rect x="935" y="313" width="1" height="45" fill="#0a5fd0"/>
<rect x="934" y="322" width="3" height="33" fill="#0a5fd0"/>
<rect x="940" y="312" width="1" height="20" fill="#0a5fd0"/>
<rect x="939" y="316" width="3" height="7" fill="#0a5fd0"/>
<rect x="945" y="315" width="1" height="9" fill="#e00000"/>
<rect x="944" y="316" width="3" height="6" fill="#e00000"/>
<rect x="950" y="298" width="1" height="25" fill="#0a5fd0"/>
<rect x="949" y="311" width="3" height="11" fill="#0a5fd0"/>
<rect x="955" y="282" width="1" height="31" fill="#0a5fd0"/>
<rect x="954" y="293" width="3" height="19" fill="#0a5fd0"/>
<rect x="960" y="289" width="1" height="14" fill="#0a5fd0"/>
<rect x="959" y="290" width="3" height="4" fill="#0a5fd0"/>
<rect x="965" y="284" width="1" height="11" fill="#e00000"/>
<rect x="964" y="290" width="3" height="5" fill="#e00000"/>
<rect x="970" y="276" width="1" height="21" fill="#0a5fd0"/>
<rect x="969" y="282" width="3" height="13" fill="#0a5fd0"/>
<rect x="975" y="273" width="1" height="14" fill="#0a5fd0"/>
<rect x="974" y="280" width="3" height="2" fill="#0a5fd0"/>
<rect x="980" y="273" width="1" height="9" fill="#0a5fd0"/>
<rect x="979" y="278" width="3" height="3" fill="#0a5fd0"/>
<rect x="985" y="270" width="1" height="11" fill="#e00000"/>
<rect x="984" y="278" width="3" height="3" fill="#e00000"/>
<rect x="990" y="280" width="1" height="32" fill="#e00000"/>
<rect x="989" y="280" width="3" height="19" fill="#e00000"/>
<rect x="995" y="298" width="1" height="16" fill="#e00000"/>
<rect x="994" y="298" width="3" height="12" fill="#e00000"/>
<rect x="1000" y="300" width="1" height="14" fill="#0a5fd0"/>
<rect x="999" y="301" width="3" height="9" fill="#0a5fd0"/>
<rect x="1005" y="300" width="1" height="8" fill="#e00000"/>
<rect x="1004" y="301" width="3" height="4" fill="#e00000"/>
<rect x="1010" y="295" width="1" height="12" fill="#0a5fd0"/>
<rect x="1009" y="305" width="3" height="2" fill="#0a5fd0"/>
<rect x="1015" y="298" width="1" height="33" fill="#e00000"/>
<rect x="1014" y="302" width="3" height="6" fill="#e00000"/>
<rect x="1020" y="291" width="1" height="24" fill="#0a5fd0"/>
<rect x="1019" y="291" width="3" height="16" fill="#0a5fd0"/>
<rect x="1025" y="288" width="1" height="9" fill="#e00000"/>
<rect x="1024" y="290" width="3" height="5" fill="#e00000"/>
<rect x="1030" y="312" width="1" height="26" fill="#0a5fd0"/>
<rect x="1029" y="320" width="3" height="16" fill="#0a5fd0"/>
<rect x="1035" y="317" width="1" height="7" fill="#0a5fd0"/>
<rect x="1034" y="318" width="3" height="3" fill="#0a5fd0"/>
<rect x="1040" y="318" width="1" height="24" fill="#e00000"/>
<rect x="1039" y="318" width="3" height="18" fill="#e00000"/>
<rect x="1045" y="321" width="1" height="16" fill="#0a5fd0"/>
<rect x="1044" y="325" width="3" height="11" fill="#0a5fd0"/>
<rect x="1050" y="321" width="1" height="15" fill="#0a5fd0"/>
<rect x="1049" y="326" width="3" height="2" fill="#0a5fd0"/>
<rect x="1055" y="328" width="1" height="5" fill="#0a5fd0"/>
<rect x="1054" y="328" width="3" height="2" fill="#0a5fd0"/>
<rect x="1060" y="317" width="1" height="16" fill="#e00000"/>
<rect x="1059" y="326" width="3" height="6" fill="#e00000"/>
<rect x="1065" y="331" width="1" height="21" fill="#e00000"/>
<rect x="1064" y="331" width="3" height="13" fill="#e00000"/>
<rect x="1070" y="334" width="1" height="16" fill="#0a5fd0"/>
<rect x="1069" y="340" width="3" height="4" fill="#0a5fd0"/>
<rect x="1075" y="340" width="1" height="16" fill="#e00000"/>
<rect x="1074" y="340" width="3" height="13" fill="#e00000"/>
<rect x="1080" y="350" width="1" height="31" fill="#e00000"/>
<rect x="1079" y="353" width="3" height="26" fill="#e00000"/>
<rect x="1085" y="371" width="1" height="13" fill="#0a5fd0"/>
<rect x="1084" y="375" width="3" height="4" fill="#0a5fd0"/>
<rect x="1090" y="375" width="1" height="16" fill="#e00000"/>
<rect x="1089" y="375" width="3" height="9" fill="#e00000"/>
<rect x="1095" y="376" width="1" height="10" fill="#0a5fd0"/>
<rect x="1094" y="381" width="3" height="3" fill="#0a5fd0"/>
<rect x="1100" y="373" width="1" height="19" fill="#e00000"/>
<rect x="1099" y="381" width="3" height="2" fill="#e00000"/>
<rect x="1105" y="367" width="1" height="28" fill="#0a5fd0"/>
<rect x="1104" y="371" width="3" height="11" fill="#0a5fd0"/>
<rect x="1110" y="355" width="1" height="25" fill="#0a5fd0"/>
<rect x="1109" y="356" width="3" height="16" fill="#0a5fd0"/>
<rect x="1115" y="342" width="1" height="18" fill="#0a5fd0"/>
<rect x="1114" y="353" width="3" height="4" fill="#0a5fd0"/>
<rect x="1120" y="348" width="1" height="21" fill="#e00000"/>
<rect x="1119" y="353" width="3" height="3" fill="#e00000"/>
<rect x="1125" y="351" width="1" height="13" fill="#e00000"/>
<rect x="1124" y="356" width="3" height="5" fill="#e00000"/>
<rect x="1130" y="359" width="1" height="11" fill="#e00000"/>
<rect x="1129" y="359" width="3" height="9" fill="#e00000"/>
<rect x="1135" y="367" width="1" height="15" fill="#e00000"/>
<rect x="1134" y="367" width="3" height="13" fill="#e00000"/>
<rect x="1140" y="366" width="1" height="51" fill="#e00000"/>
<rect x="1139" y="379" width="3" height="13" fill="#e00000"/>
<rect x="1145" y="381" width="1" height="21" fill="#e00000"/>
<rect x="1144" y="392" width="3" height="5" fill="#e00000"/>
<rect x="1150" y="394" width="1" height="18" fill="#e00000"/>
<rect x="1149" y="396" width="3" height="7" fill="#e00000"/>
<rect x="1155" y="394" width="1" height="23" fill="#e00000"/>
<rect x="1154" y="402" width="3" height="15" fill="#e00000"/>
<rect x="1160" y="416" width="1" height="28" fill="#e00000"/>
<rect x="1159" y="416" width="3" height="22" fill="#e00000"/>
<rect x="1165" y="434" width="1" height="11" fill="#0a5fd0"/>
<rect x="1164" y="437" width="3" height="2" fill="#0a5fd0"/>
<rect x="1170" y="417" width="1" height="24" fill="#0a5fd0"/>
<rect x="1169" y="427" width="3" height="11" fill="#0a5fd0"/>
<rect x="1175" y="428" width="1" height="13" fill="#e00000"/>
<rect x="1174" y="428" width="3" height="2" fill="#e00000"/>
<rect x="1180" y="393" width="1" height="22" fill="#0a5fd0"/>
<rect x="1179" y="396" width="3" height="17" fill="#0a5fd0"/>
<rect x="1185" y="389" width="1" height="11" fill="#e00000"/>
<rect x="1184" y="396" width="3" height="3" fill="#e00000"/>
<rect x="1190" y="386" width="1" height="15" fill="#0a5fd0"/>
<rect x="1189" y="396" width="3" height="3" fill="#0a5fd0"/>
<rect x="1195" y="375" width="1" height="25" fill="#0a5fd0"/>
<rect x="1194" y="378" width="3" height="19" fill="#0a5fd0"/>
<rect x="1200" y="354" width="1" height="26" fill="#0a5fd0"/>
<rect x="1199" y="359" width="3" height="20" fill="#0a5fd0"/>
<rect x="1205" y="336" width="1" height="25" fill="#0a5fd0"/>
<rect x="1204" y="341" width="3" height="18" fill="#0a5fd0"/>
<rect x="1210" y="331" width="1" height="18" fill="#0a5fd0"/>
<rect x="1209" y="333" width="3" height="8" fill="#0a5fd0"/>
<rect x="1215" y="331" width="1" height="16" fill="#e00000"/>
<rect x="1214" y="333" width="3" height="8" fill="#e00000"/>
<rect x="1220" y="322" width="1" height="25" fill="#0a5fd0"/>
<rect x="1219" y="323" width="3" height="18" fill="#0a5fd0"/>
<rect x="1225" y="307" width="1" height="19" fill="#0a5fd0"/>
<rect x="1224" y="309" width="3" height="14" fill="#0a5fd0"/>
<rect x="1230" y="297" width="1" height="20" fill="#0a5fd0"/>
<rect x="1229" y="304" width="3" height="5" fill="#0a5fd0"/>
<rect x="1235" y="293" width="1" height="15" fill="#0a5fd0"/>
<rect x="1234" y="298" width="3" height="6" fill="#0a5fd0"/>
<rect x="1240" y="291" width="1" height="13" fill="#0a5fd0"/>
<rect x="1239" y="298" width="3" height="2" fill="#0a5fd0"/>
<rect x="1245" y="296" width="1" height="11" fill="#e00000"/>
<rect x="1244" y="299" width="3" height="2" fill="#e00000"/>
<rect x="1250" y="299" width="1" height="13" fill="#e00000"/>
<rect x="1249" y="300" width="3" height="4" fill="#e00000"/>
<rect x="1255" y="298" width="1" height="13" fill="#0a5fd0"/>
<rect x="1254" y="301" width="3" height="3" fill="#0a5fd0"/>
<rect x="1260" y="268" width="1" height="34" fill="#0a5fd0"/>
<rect x="1259" y="269" width="3" height="31" fill="#0a5fd0"/>
<rect x="1265" y="268" width="1" height="17" fill="#e00000"/>
<rect x="1264" y="269" width="3" height="11" fill="#e00000"/>
<rect x="1270" y="272" width="1" height="11" fill="#0a5fd0"/>
<rect x="1269" y="274" width="3" height="6" fill="#0a5fd0"/>
<rect x="1275" y="266" width="1" height="18" fill="#e00000"/>
<rect x="1274" y="274" width="3" height="9" fill="#e00000"/>
<rect x="1280" y="275" width="1" height="12" fill="#e00000"/>
<rect x="1279" y="280" width="3" height="6" fill="#e00000"/>
<rect x="1285" y="280" width="1" height="9" fill="#0a5fd0"/>
<rect x="1284" y="281" width="3" height="5" fill="#0a5fd0"/>
<rect x="1290" y="263" width="1" height="20" fill="#0a5fd0"/>
<rect x="1289" y="265" width="3" height="17" fill="#0a5fd0"/>
<rect x="1295" y="264" width="1" height="36" fill="#e00000"/>
<rect x="1294" y="265" width="3" height="31" fill="#e00000"/>
<rect x="1300" y="293" width="1" height="4" fill="#e00000"/>
<rect x="1299" y="295" width="3" height="2" fill="#e00000"/>
<rect x="1305" y="284" width="1" height="18" fill="#0a5fd0"/>
<rect x="1304" y="287" width="3" height="9" fill="#0a5fd0"/>
<rect x="1310" y="260" width="1" height="27" fill="#0a5fd0"/>
<rect x="1309" y="266" width="3" height="21" fill="#0a5fd0"/>
<rect x="1315" y="262" width="1" height="6" fill="#e00000"/>
<rect x="1314" y="266" width="3" height="2" fill="#e00000"/>
<rect x="1320" y="252" width="1" height="12" fill="#0a5fd0"/>
<rect x="1319" y="253" width="3" height="11" fill="#0a5fd0"/>
</g>
<path d="M0.0 211.2 C8.3 210.6 33.3 208.8 50.0 207.5 C66.7 206.2 83.3 205.2 100.0 203.8 C116.7 202.3 136.7 199.8 150.0 198.8 C163.3 197.7 169.8 198.2 180.0 197.5 C190.2 196.7 201.0 195.2 211.5 194.3 C222.0 193.4 232.5 192.6 243.0 192.0 C253.5 191.4 262.7 191.2 274.5 190.7 C286.3 190.2 298.1 189.4 313.9 189.1 C329.6 188.8 354.5 188.6 369.0 188.8 C383.4 189.1 390.0 190.1 400.5 190.7 C411.0 191.3 418.7 191.8 432.0 192.3 C445.2 192.8 469.4 193.4 479.8 193.9 C490.3 194.3 488.0 194.5 494.6 195.0 C501.3 195.4 512.5 195.9 519.8 196.5 C527.2 197.2 533.0 198.1 538.7 198.9 C544.5 199.7 549.2 200.3 554.5 201.3 C559.7 202.2 565.0 203.5 570.2 204.4 C575.5 205.3 580.7 206.0 586.0 206.8 C591.2 207.6 596.5 208.4 601.7 209.1 C607.0 209.9 612.2 210.7 617.5 211.2 C622.7 211.7 628.0 212.0 633.2 212.3 C638.5 212.6 643.7 212.7 649.0 213.1 C654.2 213.5 659.5 214.0 664.7 214.6 C670.0 215.3 673.9 216.0 680.5 217.0 C687.0 218.1 698.8 219.9 704.1 220.9 C709.3 222.0 705.4 221.7 712.0 223.3 C718.5 224.9 735.5 228.6 743.5 230.4 C751.4 232.2 747.1 231.7 759.8 234.3 C772.6 237.0 804.9 242.5 820.0 246.2 C835.1 250.0 839.9 254.0 850.2 257.1 C860.5 260.2 871.2 262.5 881.7 265.0 C892.2 267.5 902.7 269.7 913.2 272.0 C923.7 274.4 934.2 277.0 944.7 279.1 C955.2 281.2 965.7 282.9 976.2 284.6 C986.7 286.4 998.8 288.4 1007.7 289.4 C1016.7 290.3 1021.0 289.8 1030.0 290.5 C1039.0 291.2 1051.0 292.0 1061.5 293.6 C1072.0 295.2 1082.5 298.1 1093.0 299.9 C1103.5 301.8 1114.0 303.2 1124.5 304.6 C1135.0 306.1 1145.5 306.7 1156.0 308.6 C1166.5 310.4 1177.0 313.8 1187.5 315.7 C1198.0 317.6 1211.1 319.2 1219.0 320.1 C1226.9 321.0 1226.9 320.7 1234.7 321.2 C1242.6 321.6 1255.7 322.4 1266.2 322.8 C1276.7 323.1 1288.8 323.4 1297.7 323.2 C1306.6 323.1 1316.1 322.2 1319.8 322.0" fill="none" stroke="#ff8000" stroke-width="2" stroke-linejoin="round"/>
<path d="M0.0 158.8 C8.3 158.2 33.3 156.3 50.0 155.5 C66.7 154.7 83.3 154.0 100.0 153.8 C116.7 153.5 136.7 153.5 150.0 153.8 C163.3 154.0 171.6 154.6 180.0 155.0 C188.4 155.3 194.4 155.4 200.5 155.7 C206.5 156.1 208.6 156.5 216.2 157.3 C223.8 158.1 237.5 159.6 246.1 160.5 C254.8 161.4 261.4 162.0 268.2 162.8 C275.0 163.6 281.3 164.0 287.1 165.2 C292.9 166.4 297.6 168.2 302.8 169.9 C308.1 171.6 313.1 173.7 318.6 175.4 C324.1 177.1 330.1 178.8 335.9 180.2 C341.7 181.5 347.7 182.0 353.2 183.3 C358.7 184.6 363.7 186.6 369.0 188.0 C374.2 189.5 378.2 190.0 384.7 192.0 C391.3 193.9 400.5 197.3 408.3 199.8 C416.2 202.3 424.1 204.6 432.0 206.9 C439.8 209.3 450.7 212.9 455.6 214.0 C460.5 215.2 458.2 213.0 461.6 213.9 C464.9 214.8 470.8 217.5 475.7 219.4 C480.7 221.2 486.2 222.9 491.5 224.9 C496.7 226.9 502.0 229.3 507.2 231.2 C512.5 233.0 517.7 234.1 523.0 235.9 C528.2 237.7 533.5 240.2 538.7 242.2 C544.0 244.2 549.2 246.0 554.5 247.7 C559.7 249.4 565.0 250.9 570.2 252.4 C575.5 254.0 580.7 255.6 586.0 257.2 C591.2 258.7 596.5 260.6 601.7 261.9 C607.0 263.2 612.2 264.2 617.5 265.0 C622.7 265.9 628.0 266.3 633.2 266.9 C638.5 267.6 643.7 268.4 649.0 269.0 C654.2 269.6 659.5 269.8 664.7 270.6 C670.0 271.3 672.9 272.3 680.5 273.7 C688.1 275.1 703.8 277.7 710.4 279.2 C717.0 280.7 715.1 281.5 720.0 282.5 C724.9 283.5 731.4 283.9 740.0 285.4 C748.6 287.0 761.0 289.5 771.5 291.7 C782.0 294.0 792.5 296.5 803.0 298.8 C813.5 301.2 824.0 303.9 834.5 305.9 C845.0 307.9 855.5 309.2 866.0 310.6 C876.5 312.1 887.0 313.3 897.5 314.6 C908.0 315.8 918.5 317.2 929.0 318.0 C939.5 318.8 950.0 319.0 960.5 319.3 C971.0 319.6 981.5 319.2 992.0 319.6 C1002.5 320.0 1017.1 321.4 1023.5 321.7 C1029.8 321.9 1023.7 320.7 1030.0 321.2 C1036.3 321.6 1051.0 323.0 1061.5 324.3 C1072.0 325.6 1082.5 327.7 1093.0 329.1 C1103.5 330.4 1114.0 331.3 1124.5 332.2 C1135.0 333.1 1145.5 333.8 1156.0 334.6 C1166.5 335.4 1177.0 336.0 1187.5 336.9 C1198.0 337.8 1208.5 339.2 1219.0 340.1 C1229.5 340.9 1240.0 341.9 1250.5 342.1 C1261.0 342.4 1274.6 341.8 1282.0 341.7 C1289.3 341.5 1292.5 341.3 1294.6 341.2" fill="none" stroke="#008000" stroke-width="2" stroke-linejoin="round"/>
<path d="M0.0 113.8 C4.2 114.7 16.7 117.2 25.0 119.5 C33.3 121.8 41.7 124.5 50.0 127.5 C58.3 130.5 66.7 133.8 75.0 137.5 C83.3 141.2 91.7 145.4 100.0 150.0 C108.3 154.6 116.7 160.2 125.0 165.0 C133.3 169.8 141.7 174.8 150.0 178.8 C158.3 182.7 170.0 186.3 175.0 188.8 C180.0 191.2 176.0 192.0 180.0 193.5 C184.0 195.1 193.6 196.8 198.9 198.3 C204.1 199.7 206.8 200.6 211.5 202.2 C216.2 203.8 222.0 206.0 227.2 207.7 C232.5 209.4 237.7 210.7 243.0 212.4 C248.2 214.1 253.5 216.2 258.7 218.0 C264.0 219.7 269.2 221.1 274.5 222.7 C279.7 224.3 285.0 225.7 290.2 227.4 C295.5 229.1 299.9 230.9 306.0 232.9 C312.0 234.9 319.1 236.8 326.5 239.2 C333.8 241.6 341.9 245.4 350.0 247.5 C358.1 249.6 366.7 250.8 375.0 252.0 C383.3 253.2 391.7 253.7 400.0 255.0 C408.3 256.3 416.7 258.3 425.0 260.0 C433.3 261.7 441.5 263.1 450.0 265.0 C458.5 266.9 468.5 269.2 476.0 271.2 C483.5 273.3 487.7 275.6 495.0 277.5 C502.3 279.4 511.7 280.6 520.0 282.5 C528.3 284.4 536.7 286.5 545.0 288.8 C553.3 291.0 560.8 293.9 570.0 296.2 C579.2 298.6 590.0 301.5 600.0 303.0 C610.0 304.5 620.0 305.3 630.0 305.0 C640.0 304.7 650.8 301.5 660.0 301.2 C669.2 301.0 677.1 302.3 685.0 303.8 C692.9 305.2 699.6 307.5 707.5 310.0 C715.4 312.5 727.1 316.9 732.5 318.8 C737.9 320.6 733.5 319.5 740.0 320.9 C746.5 322.3 761.0 326.2 771.5 327.2 C782.0 328.1 789.9 326.6 803.0 326.4 C816.1 326.1 837.1 324.7 850.2 325.6 C863.4 326.5 871.2 329.0 881.7 331.9 C892.2 334.8 904.0 340.2 913.2 342.9 C922.4 345.7 927.7 348.2 936.9 348.4 C946.0 348.7 956.5 346.9 968.3 344.5 C980.2 342.1 997.4 336.8 1007.7 334.3 C1018.0 331.7 1021.0 330.1 1030.0 329.1 C1039.0 328.1 1051.0 328.0 1061.5 328.3 C1072.0 328.5 1082.5 329.8 1093.0 330.6 C1103.5 331.4 1114.0 331.8 1124.5 333.0 C1135.0 334.2 1145.5 335.7 1156.0 337.7 C1166.5 339.7 1179.6 343.1 1187.5 344.8 C1195.4 346.5 1198.0 346.6 1203.2 348.0 C1208.5 349.3 1209.8 351.9 1219.0 352.7 C1228.2 353.5 1245.7 353.3 1258.3 352.7 C1270.9 352.0 1288.5 349.4 1294.6 348.7" fill="none" stroke="#0000ff" stroke-width="2" stroke-linejoin="round"/>
<path d="M0.0 138.8 C4.2 141.0 16.7 146.9 25.0 152.5 C33.3 158.1 43.8 167.7 50.0 172.5 C56.2 177.3 56.2 179.0 62.5 181.2 C68.8 183.5 79.2 183.5 87.5 186.2 C95.8 189.0 104.2 193.1 112.5 197.5 C120.8 201.9 129.2 208.3 137.5 212.5 C145.8 216.7 155.4 219.8 162.5 222.5 C169.6 225.2 173.8 227.5 180.0 228.8 C186.2 230.0 192.5 229.9 200.0 230.0 C207.5 230.1 218.3 230.1 225.0 229.5 C231.7 228.9 232.5 226.8 240.0 226.2 C247.5 225.7 262.1 224.4 270.0 226.2 C277.9 228.1 280.4 232.3 287.5 237.5 C294.6 242.7 304.2 252.1 312.5 257.5 C320.8 262.9 329.2 267.1 337.5 270.0 C345.8 272.9 352.1 273.1 362.5 275.0 C372.9 276.9 389.6 280.6 400.0 281.2 C410.4 281.9 416.7 279.8 425.0 278.8 C433.3 277.7 441.5 275.4 450.0 275.0 C458.5 274.6 466.4 275.3 476.0 276.2 C485.6 277.2 497.7 277.8 507.5 280.5 C517.3 283.2 526.7 287.2 535.0 292.5 C543.3 297.8 549.6 306.0 557.5 312.5 C565.4 319.0 574.6 327.3 582.5 331.2 C590.4 335.2 597.9 336.2 605.0 336.2 C612.1 336.2 618.3 334.8 625.0 331.2 C631.7 327.7 637.5 320.7 645.0 315.0 C652.5 309.3 662.5 301.0 670.0 297.0 C677.5 293.0 684.2 292.0 690.0 291.2 C695.8 290.5 699.2 289.8 705.0 292.5 C710.8 295.2 719.2 303.2 725.0 307.5 C730.8 311.8 734.9 314.4 740.0 318.5 C745.1 322.6 751.8 328.1 755.7 331.9 C759.7 335.7 761.0 339.2 763.6 341.3 C766.2 343.4 767.6 343.6 771.5 344.5 C775.4 345.4 779.4 346.2 787.2 346.9 C795.1 347.5 810.9 348.3 818.7 348.4 C826.6 348.6 829.2 348.6 834.5 347.6 C839.7 346.7 845.0 344.2 850.2 342.9 C855.5 341.6 860.7 340.2 866.0 339.8 C871.2 339.4 876.5 339.8 881.7 340.6 C887.0 341.3 892.2 343.4 897.5 344.5 C902.7 345.5 908.0 346.1 913.2 346.9 C918.5 347.6 923.7 349.0 929.0 349.2 C934.2 349.5 939.5 349.2 944.7 348.4 C950.0 347.6 955.2 346.9 960.5 344.5 C965.7 342.1 971.0 337.7 976.2 334.3 C981.5 330.8 986.7 327.0 992.0 324.0 C997.2 321.0 1002.5 319.6 1007.7 316.1 C1013.0 312.7 1019.5 306.2 1023.5 303.5 C1027.4 300.9 1028.6 301.0 1031.3 300.4 C1034.1 299.8 1036.7 300.1 1039.8 300.1 C1043.0 300.1 1045.0 298.8 1050.0 300.5 C1055.0 302.2 1063.3 305.5 1070.0 310.0 C1076.7 314.5 1082.5 322.1 1090.0 327.5 C1097.5 332.9 1106.7 337.1 1115.0 342.5 C1123.3 347.9 1131.7 353.8 1140.0 360.0 C1148.3 366.2 1158.3 374.9 1165.0 380.0 C1171.7 385.1 1174.2 388.6 1180.0 390.5 C1185.8 392.4 1192.1 392.6 1200.0 391.2 C1207.9 389.9 1218.3 388.3 1227.5 382.5 C1236.7 376.7 1246.7 366.7 1255.0 356.2 C1263.3 345.8 1270.8 329.0 1277.5 320.0 C1284.2 311.0 1288.8 307.5 1295.0 302.5 C1301.2 297.5 1311.7 292.1 1315.0 290.0" fill="none" stroke="#ff0000" stroke-width="2" stroke-linejoin="round"/>
<path d="M0.0 160.0 C1.7 160.4 6.7 160.6 10.0 162.5 C13.3 164.4 17.5 168.8 20.0 171.2 C22.5 173.8 22.5 174.4 25.0 177.5 C27.5 180.6 30.8 187.5 35.0 190.0 C39.2 192.5 45.0 190.6 50.0 192.5 C55.0 194.4 60.8 199.4 65.0 201.2 C69.2 203.1 71.7 205.6 75.0 203.8 C78.3 201.9 80.8 192.1 85.0 190.0 C89.2 187.9 95.0 188.3 100.0 191.2 C105.0 194.2 110.0 199.8 115.0 207.5 C120.0 215.2 125.0 229.8 130.0 237.5 C135.0 245.2 140.5 251.4 145.0 254.0 C149.5 256.6 153.7 254.7 157.0 253.0 C160.3 251.3 161.2 247.8 165.0 243.8 C168.8 239.7 175.8 234.4 180.0 228.8 C184.2 223.1 186.7 214.2 190.0 210.0 C193.3 205.8 196.7 205.4 200.0 203.8 C203.3 202.1 206.7 198.1 210.0 200.0 C213.3 201.9 216.7 209.6 220.0 215.0 C223.3 220.4 227.5 228.3 230.0 232.5 C232.5 236.7 231.7 239.4 235.0 240.0 C238.3 240.6 245.0 236.0 250.0 236.2 C255.0 236.5 260.8 239.0 265.0 241.2 C269.2 243.5 270.8 245.2 275.0 250.0 C279.2 254.8 285.8 265.2 290.0 270.0 C294.2 274.8 296.7 276.5 300.0 278.8 C303.3 281.0 306.7 281.9 310.0 283.8 C313.3 285.6 316.2 289.2 320.0 290.0 C323.8 290.8 328.3 290.4 332.5 288.8 C336.7 287.1 341.2 283.1 345.0 280.0 C348.8 276.9 351.2 272.3 355.0 270.0 C358.8 267.7 362.5 266.2 367.5 266.2 C372.5 266.2 379.6 266.0 385.0 270.0 C390.4 274.0 395.8 284.6 400.0 290.0 C404.2 295.4 406.7 303.3 410.0 302.5 C413.3 301.7 415.8 291.0 420.0 285.0 C424.2 279.0 430.0 269.8 435.0 266.2 C440.0 262.7 445.4 264.2 450.0 263.8 C454.6 263.3 459.2 262.9 462.5 263.8 C465.8 264.6 466.2 266.0 470.0 268.8 C473.8 271.5 480.0 274.8 485.0 280.0 C490.0 285.2 495.8 294.2 500.0 300.0 C504.2 305.8 506.7 312.6 510.0 314.5 C513.3 316.4 516.7 312.4 520.0 311.2 C523.3 310.1 526.7 306.0 530.0 307.5 C533.3 309.0 536.2 313.8 540.0 320.0 C543.8 326.2 548.3 338.3 552.5 345.0 C556.7 351.7 561.2 357.5 565.0 360.0 C568.8 362.5 570.8 362.9 575.0 360.0 C579.2 357.1 585.0 347.9 590.0 342.5 C595.0 337.1 600.0 333.3 605.0 327.5 C610.0 321.7 615.8 314.6 620.0 307.5 C624.2 300.4 625.8 291.2 630.0 285.0 C634.2 278.8 640.0 273.5 645.0 270.0 C650.0 266.5 655.8 262.9 660.0 263.8 C664.2 264.6 666.7 269.0 670.0 275.0 C673.3 281.0 675.8 293.8 680.0 300.0 C684.2 306.2 690.0 306.7 695.0 312.5 C700.0 318.3 705.8 328.5 710.0 335.0 C714.2 341.5 716.7 348.1 720.0 351.2 C723.3 354.4 726.7 354.0 730.0 353.8 C733.3 353.5 737.1 349.6 740.0 350.0 C742.9 350.4 744.2 354.0 747.5 356.2 C750.8 358.5 756.2 363.5 760.0 363.8 C763.8 364.0 766.7 360.4 770.0 357.5 C773.3 354.6 775.8 349.8 780.0 346.2 C784.2 342.7 790.8 337.3 795.0 336.2 C799.2 335.2 801.7 337.7 805.0 340.0 C808.3 342.3 811.7 347.5 815.0 350.0 C818.3 352.5 820.8 355.2 825.0 355.0 C829.2 354.8 835.0 351.9 840.0 348.8 C845.0 345.6 850.8 339.6 855.0 336.2 C859.2 332.9 860.8 328.1 865.0 328.8 C869.2 329.4 875.8 336.2 880.0 340.0 C884.2 343.8 885.8 349.4 890.0 351.2 C894.2 353.1 900.4 349.4 905.0 351.2 C909.6 353.1 914.2 358.5 917.5 362.5 C920.8 366.5 922.5 372.9 925.0 375.0 C927.5 377.1 930.0 378.1 932.5 375.0 C935.0 371.9 936.7 365.4 940.0 356.2 C943.3 347.1 947.8 329.3 952.5 320.0 C957.2 310.7 963.3 306.0 968.3 300.4 C973.3 294.8 978.8 289.0 982.5 286.2 C986.2 283.5 987.2 282.5 990.4 283.9 C993.5 285.2 997.5 290.7 1001.4 294.1 C1005.4 297.5 1010.3 303.1 1014.0 304.3 C1017.7 305.5 1020.8 301.5 1023.5 301.2 C1026.1 300.8 1025.5 298.6 1030.0 302.3 C1034.5 306.0 1044.7 319.2 1050.5 323.5 C1056.2 327.9 1060.2 325.1 1064.6 328.3 C1069.1 331.4 1073.9 337.2 1077.2 342.4 C1080.6 347.7 1081.2 353.9 1085.0 360.0 C1088.8 366.1 1095.8 376.7 1100.0 378.8 C1104.2 380.8 1105.4 375.8 1110.0 372.5 C1114.6 369.2 1122.9 360.0 1127.5 358.8 C1132.1 357.5 1133.3 359.8 1137.5 365.0 C1141.7 370.2 1147.9 382.1 1152.5 390.0 C1157.1 397.9 1161.2 406.2 1165.0 412.5 C1168.8 418.8 1170.8 428.3 1175.0 427.5 C1179.2 426.7 1185.4 415.0 1190.0 407.5 C1194.6 400.0 1198.3 391.7 1202.5 382.5 C1206.7 373.3 1212.3 359.4 1215.0 352.5 C1217.7 345.6 1215.7 347.3 1219.0 340.9 C1222.3 334.5 1229.5 320.8 1234.7 314.1 C1240.0 307.4 1246.8 302.9 1250.5 300.7 C1254.1 298.5 1254.1 302.2 1256.8 300.7 C1259.4 299.3 1262.3 295.7 1266.2 292.0 C1270.2 288.4 1276.5 280.9 1280.4 278.7 C1284.3 276.4 1286.4 277.7 1289.8 278.7 C1293.3 279.6 1297.5 283.1 1300.9 284.2 C1304.3 285.2 1307.2 286.4 1310.3 285.0 C1313.5 283.5 1318.2 277.1 1319.8 275.5" fill="none" stroke="#000000" stroke-width="2" stroke-linejoin="round"/>
<text x="5" y="92" font-size="11.5" fill="#30307a" letter-spacing="0.95">[Template: huy]</text>
<text x="5" y="105" font-size="11.5" fill="#ff8000" letter-spacing="0.49">MVA(USD/JPY.Close,200): 109.72</text>
<text x="5" y="118" font-size="11.5" fill="#008000" letter-spacing="0.49">MVA(USD/JPY.Close,120): 109.46</text>
<text x="5" y="131" font-size="11.5" fill="#0000ff" letter-spacing="0.49">MVA(USD/JPY.Close,50): 109.37</text>
<text x="5" y="144" font-size="11.5" fill="#ff0000" letter-spacing="0.49">MVA(USD/JPY.Close,20): 110.37</text>
<text x="5" y="157" font-size="11.5" fill="#000000" letter-spacing="0.49">MVA(USD/JPY.Close,5): 110.58</text>
<path d="M29 303.5 L94 227" stroke="#7080b0" stroke-width="1"/>
<rect x="16" y="239" width="10" height="18" fill="#3a7a3a" shape-rendering="crispEdges"/>
<rect x="26" y="239" width="139" height="18" fill="url(#longg)" shape-rendering="crispEdges"/>
<text x="31" y="252" font-size="11.5" fill="#9aa67a" letter-spacing="0.73">Long(09/15 09:58, 20)</text>
<path d="M16.5 257 V262" stroke="#b8d4a0"/><circle cx="16.5" cy="264.5" r="2" fill="#fff" stroke="#b8d4a0"/>
<rect x="16" y="312" width="10" height="18" fill="#3a7a3a" shape-rendering="crispEdges"/>
<rect x="26" y="312" width="35" height="18" fill="#f58080" shape-rendering="crispEdges"/>
<text x="31" y="325" font-size="11.5" fill="#c04848" letter-spacing="0.3">Stop</text>
<path d="M16.5 330 V336" stroke="#f08080"/><circle cx="16.5" cy="338.5" r="2" fill="#fff" stroke="#f08080"/>
<rect x="565" y="381" width="26" height="18" fill="url(#pink)" shape-rendering="crispEdges"/><text class="" x="578.0" y="396.7" font-size="17.5" fill="#000" text-anchor="middle" letter-spacing="0" font-weight="bold">w</text>
<rect x="970" y="235" width="21" height="18" fill="url(#pink)" shape-rendering="crispEdges"/><text class="ser" x="980.5" y="250.0" font-size="18" fill="#000" text-anchor="middle" letter-spacing="0">x</text>
<rect x="1159.5" y="446.5" width="21.0" height="19.0" fill="url(#pink)" stroke="#303030" stroke-width="1" shape-rendering="crispEdges"/><text class="ser" x="1170.0" y="460.6" font-size="16" fill="#000" text-anchor="middle" letter-spacing="0">y</text>
<rect x="1165" y="475" width="21" height="18" fill="url(#gold)" shape-rendering="crispEdges"/><text class="ser" x="1175.5" y="489.9" font-size="17" fill="#000" text-anchor="middle" letter-spacing="0">2</text>
<rect x="1275" y="231" width="23" height="18" fill="url(#cyan)" shape-rendering="crispEdges"/><text class="ser" x="1286.5" y="245.9" font-size="17" fill="#000" text-anchor="middle" letter-spacing="0">i)</text>
<rect x="1295" y="334" width="27" height="16" fill="url(#cyan)" shape-rendering="crispEdges"/><text class="ser" x="1308.5" y="347.9" font-size="17" fill="#000" text-anchor="middle" letter-spacing="0">ii)</text>
<rect x="1365" y="124" width="31" height="18" fill="url(#cyan)" shape-rendering="crispEdges"/><text class="ser" x="1380.5" y="138.9" font-size="17" fill="#000" text-anchor="middle" letter-spacing="0">iii)</text>
<ellipse cx="1207" cy="339.5" rx="11.5" ry="12" fill="rgba(180,180,180,0.15)" stroke="#d4d4d4" stroke-width="1"/>
<ellipse cx="1314.8" cy="237.2" rx="9.5" ry="11.5" fill="#f0f0f0" stroke="#cfcfcf" stroke-width="1"/>
<path d="M1285.5 249 V287" stroke="#1060d0" stroke-width="1"/>
<path d="M1300.5 292 V334" stroke="#e00000" stroke-width="1"/>
<path d="M1315.5 232 V268" stroke="#e00000" stroke-width="1"/>
<polyline points="1319.5,267.8 1326.8,244.7 1335.2,221.7 1341.5,194.4 1347.8,167.1 1355.2,136.7" fill="none" stroke="#1020f0" stroke-width="1.8" stroke-dasharray="2.2,2.2"/>
<defs><linearGradient id="arr" x1="0" y1="0" x2="0" y2="1"><stop offset="0" stop-color="#a8e060"/><stop offset="1" stop-color="#3a9a10"/></linearGradient></defs><path d="M1320.5 276.5 L1327.5 283.5 L1324 283.5 L1324 291 L1317 291 L1317 283.5 L1313.5 283.5 Z" fill="url(#arr)" stroke="#3a8018" stroke-width="0.6"/>
<rect x="1843" y="245" width="47" height="15" fill="#5ccaf6" shape-rendering="crispEdges"/>
<text x="1845" y="257" font-size="11.5" fill="#000" letter-spacing="0.3">110.943</text>
<g shape-rendering="crispEdges">
<rect x="0" y="546" width="1842" height="1" fill="#000"/>
<rect x="0" y="642" width="1842" height="1" fill="#000"/>
<rect x="0" y="565" width="1827" height="1" fill="#f04040"/>
<rect x="0" y="623" width="1827" height="1" fill="#f04040"/>
<rect x="1827" y="546" width="15" height="1" fill="#505050"/><rect x="1827" y="642" width="15" height="1" fill="#505050"/>
<rect x="1838" y="643" width="4" height="1" fill="#3c3c3c"/>
<rect x="1838" y="633" width="4" height="1" fill="#3c3c3c"/>
<rect x="1838" y="624" width="4" height="1" fill="#3c3c3c"/>
<rect x="1838" y="614" width="4" height="1" fill="#3c3c3c"/>
<rect x="1838" y="604" width="4" height="1" fill="#3c3c3c"/>
<rect x="1834" y="595" width="8" height="1" fill="#3c3c3c"/>
<rect x="1838" y="585" width="4" height="1" fill="#3c3c3c"/>
<rect x="1838" y="575" width="4" height="1" fill="#3c3c3c"/>
<rect x="1838" y="566" width="4" height="1" fill="#3c3c3c"/>
<rect x="1838" y="556" width="4" height="1" fill="#3c3c3c"/>
<rect x="1838" y="546" width="4" height="1" fill="#3c3c3c"/>
</g>
<polyline points="0.0,617.2 10.0,616.5 15.0,624.8 25.0,624.8 30.0,618.5 35.0,619.8 40.0,614.8 50.0,614.0 60.0,623.5 67.5,622.2 75.0,598.5 85.0,564.8 95.0,591.0 100.0,601.0 105.0,596.0 112.5,599.8 125.0,637.2 135.0,631.5 140.0,633.5 150.0,626.0 160.0,599.8 165.0,597.2 175.0,571.0 180.0,552.2 190.0,552.2 205.0,563.5 210.0,562.2 220.0,593.5 225.0,627.2 230.0,625.5 240.0,606.0 245.0,604.8 255.0,618.5 265.0,612.2 275.0,618.5 282.5,631.0 287.5,629.8 297.5,621.5 302.5,624.0 310.0,636.0 317.5,632.2 325.0,603.5 332.5,594.8 340.0,589.8 350.0,566.0 355.0,558.0 360.0,571.0 370.0,576.0 375.0,568.5 380.0,573.0 395.0,622.2 405.0,624.0 425.0,566.0 435.0,572.2 445.0,568.5 450.0,568.0 460.0,573.5 470.0,611.0 475.0,630.5 485.0,621.5 495.0,629.0 500.0,631.5 510.0,629.8 520.0,607.2 527.5,604.0 530.0,604.8 545.0,635.5 555.0,637.2 562.5,634.0 570.0,626.0 580.0,608.5 590.0,571.0 595.0,558.5 600.0,564.8 610.0,561.0 615.0,552.2 625.0,548.5 630.0,556.0 640.0,561.0 650.0,554.8 660.0,555.5 665.0,568.5 675.0,631.0 680.0,628.5 685.0,614.0 690.0,616.0 700.0,634.8 715.0,641.5 730.0,603.5 740.0,606.0 750.0,613.0 757.5,612.2 770.0,584.8 780.0,566.0 790.0,556.5 800.0,568.5 815.0,622.2 825.0,618.5 832.5,602.2 840.0,593.5 855.0,557.2 865.0,559.0 880.0,622.2 890.0,629.0 895.0,619.8 905.0,616.0 915.0,614.0 925.0,619.8 935.0,586.0 940.0,559.8 940.0,559.8 945.0,554.8 955.0,556.0 970.0,553.5 980.0,552.2 985.0,554.0 990.0,566.0 1005.0,618.5 1015.0,616.5 1025.0,590.5 1030.0,593.5 1040.0,621.0 1050.0,621.0 1055.0,615.5 1060.0,618.5 1070.0,626.0 1085.0,634.0 1095.0,630.5 1105.0,626.0 1120.0,581.0 1125.0,578.5 1130.0,581.5 1140.0,603.5 1150.0,614.8 1160.0,633.5 1165.0,633.5 1175.0,616.0 1190.0,576.0 1205.0,551.0 1215.0,549.8 1230.0,549.8 1245.0,552.2 1255.0,559.8 1265.0,555.5 1270.0,556.0 1285.0,584.8 1295.0,594.0 1305.0,601.5 1310.0,586.0 1320.0,572.2" fill="none" stroke="#ff0000" stroke-width="1.2"/>
<polyline points="0.0,618.0 10.0,617.2 25.0,623.5 35.0,621.0 50.0,614.8 65.0,622.2 70.0,619.8 90.0,573.5 100.0,589.8 105.0,597.2 115.0,602.2 130.0,635.5 140.0,634.2 150.0,629.8 175.0,583.5 190.0,552.2 210.0,562.2 215.0,566.0 230.0,617.2 235.0,621.0 247.5,607.2 260.0,618.5 270.0,615.5 275.0,617.2 287.5,629.0 300.0,623.5 315.0,634.0 320.0,631.0 335.0,598.5 345.0,586.0 360.0,564.8 370.0,573.5 375.0,572.2 385.0,577.2 405.0,623.5 410.0,622.2 430.0,571.0 440.0,569.8 450.0,568.5 460.0,572.2 470.0,592.2 480.0,622.2 490.0,623.0 505.0,631.0 515.0,624.8 530.0,605.5 540.0,613.5 560.0,637.2 570.0,632.2 580.0,619.8 600.0,563.5 610.0,562.2 625.0,548.5 640.0,559.8 660.0,554.8 665.0,563.5 680.0,624.8 685.0,623.5 695.0,618.0 715.0,639.0 730.0,613.5 740.0,605.5 760.0,610.5 780.0,573.5 792.5,559.0 800.0,563.5 825.0,619.8 845.0,592.2 865.0,558.5 875.0,576.0 890.0,626.0 910.0,615.5 920.0,616.0 930.0,613.5 940.0,583.5 950.0,555.5 965.0,554.8 980.0,552.2 990.0,559.8 1005.0,611.0 1015.0,617.2 1030.0,594.8 1035.0,597.2 1045.0,616.0 1050.0,621.0 1060.0,618.0 1065.0,619.8 1080.0,631.0 1090.0,633.5 1100.0,631.0 1110.0,621.0 1130.0,581.0 1145.0,606.0 1155.0,618.5 1165.0,631.5 1175.0,626.5 1190.0,593.5 1210.0,551.5 1225.0,550.5 1245.0,553.0 1260.0,559.0 1270.0,556.0 1280.0,567.2 1295.0,588.5 1305.0,597.2 1320.0,580.5" fill="none" stroke="#0000ff" stroke-width="1.2"/>
<text x="5" y="551.5" font-size="11.5" fill="#ff0000" letter-spacing="0.5">SSD(USD/JPY, 10, 3, 3) -</text><text x="158.6" y="551.5" font-size="11.5" fill="#ff0000" letter-spacing="0.5">K: 73.84</text>
<text x="215" y="551.5" font-size="11.5" fill="#1a1aff" letter-spacing="0.5">D: 65.95</text>
<rect x="1845" y="542" width="21" height="11" fill="#a0a0a0" shape-rendering="crispEdges"/><text x="1846" y="551" font-size="11.5" fill="#000" letter-spacing="0.2">100</text>
<rect x="1845" y="560" width="14" height="12" fill="#f05050" shape-rendering="crispEdges"/><text x="1846" y="570" font-size="11.5" fill="#000" letter-spacing="0.2">80</text>
<rect x="1845" y="618" width="14" height="12" fill="#f05050" shape-rendering="crispEdges"/><text x="1846" y="628" font-size="11.5" fill="#000" letter-spacing="0.2">20</text>
<rect x="1845" y="637" width="7" height="12" fill="#a0a0a0" shape-rendering="crispEdges"/><text x="1846" y="647" font-size="11.5" fill="#000" letter-spacing="0.2">0</text>
<rect x="1305" y="602" width="43" height="18" fill="url(#gray)" shape-rendering="crispEdges"/><text class="" x="1326.5" y="617.0" font-size="17" fill="#000" text-anchor="middle" letter-spacing="0" font-weight="bold">Buy</text>
<g shape-rendering="crispEdges">
<rect x="0" y="729" width="1842" height="1" fill="#000"/>
<rect x="1837" y="662" width="5" height="1" fill="#3c3c3c"/>
<rect x="1837" y="670" width="5" height="1" fill="#3c3c3c"/>
<rect x="1837" y="677" width="5" height="1" fill="#3c3c3c"/>
<rect x="1837" y="685" width="5" height="1" fill="#3c3c3c"/>
<rect x="1834" y="692" width="8" height="1" fill="#3c3c3c"/>
<rect x="1837" y="700" width="5" height="1" fill="#3c3c3c"/>
<rect x="1837" y="707" width="5" height="1" fill="#3c3c3c"/>
<rect x="1837" y="715" width="5" height="1" fill="#3c3c3c"/>
<rect x="1837" y="722" width="5" height="1" fill="#3c3c3c"/>
<rect x="1837" y="737" width="5" height="1" fill="#3c3c3c"/>
<rect x="1837" y="744" width="5" height="1" fill="#3c3c3c"/>
<rect x="1837" y="751" width="5" height="1" fill="#3c3c3c"/>
<rect x="1837" y="758" width="5" height="1" fill="#3c3c3c"/>
<rect x="1834" y="765" width="8" height="1" fill="#3c3c3c"/>
<rect x="1837" y="773" width="5" height="1" fill="#3c3c3c"/>
<rect x="1837" y="780" width="5" height="1" fill="#3c3c3c"/>
<rect x="1837" y="787" width="5" height="1" fill="#3c3c3c"/>
<rect x="1837" y="794" width="5" height="1" fill="#3c3c3c"/>
<rect x="1837" y="659" width="5" height="1" fill="#3c3c3c"/>
<rect x="-2" y="730" width="4" height="4" fill="#000"/>
<rect x="13" y="730" width="4" height="3" fill="#000"/>
<rect x="18" y="730" width="4" height="2" fill="#000"/>
<rect x="23" y="730" width="4" height="6" fill="#000"/>
<rect x="28" y="730" width="4" height="6" fill="#000"/>
<rect x="33" y="730" width="4" height="5" fill="#000"/>
<rect x="38" y="730" width="4" height="4" fill="#000"/>
<rect x="43" y="730" width="4" height="2" fill="#000"/>
<rect x="53" y="730" width="4" height="2" fill="#000"/>
<rect x="58" y="730" width="4" height="2" fill="#000"/>
<rect x="68" y="727" width="4" height="2" fill="#000"/>
<rect x="73" y="724" width="4" height="5" fill="#000"/>
<rect x="78" y="718" width="4" height="11" fill="#000"/>
<rect x="83" y="716" width="4" height="13" fill="#000"/>
<rect x="88" y="719" width="4" height="10" fill="#000"/>
<rect x="93" y="719" width="4" height="10" fill="#000"/>
<rect x="98" y="719" width="4" height="10" fill="#000"/>
<rect x="103" y="720" width="4" height="9" fill="#000"/>
<rect x="108" y="723" width="4" height="6" fill="#000"/>
<rect x="118" y="730" width="4" height="6" fill="#000"/>
<rect x="123" y="730" width="4" height="9" fill="#000"/>
<rect x="128" y="730" width="4" height="12" fill="#000"/>
<rect x="133" y="730" width="4" height="12" fill="#000"/>
<rect x="138" y="730" width="4" height="14" fill="#000"/>
<rect x="143" y="730" width="4" height="13" fill="#000"/>
<rect x="148" y="730" width="4" height="7" fill="#000"/>
<rect x="153" y="730" width="4" height="2" fill="#000"/>
<rect x="158" y="726" width="4" height="3" fill="#000"/>
<rect x="163" y="724" width="4" height="5" fill="#000"/>
<rect x="168" y="719" width="4" height="10" fill="#000"/>
<rect x="173" y="715" width="4" height="14" fill="#000"/>
<rect x="178" y="709" width="4" height="20" fill="#000"/>
<rect x="183" y="706" width="4" height="23" fill="#000"/>
<rect x="188" y="703" width="4" height="26" fill="#000"/>
<rect x="193" y="703" width="4" height="26" fill="#000"/>
<rect x="198" y="704" width="4" height="25" fill="#000"/>
<rect x="203" y="707" width="4" height="22" fill="#000"/>
<rect x="208" y="707" width="4" height="22" fill="#000"/>
<rect x="213" y="718" width="4" height="11" fill="#000"/>
<rect x="218" y="728" width="4" height="1" fill="#000"/>
<rect x="223" y="730" width="4" height="6" fill="#000"/>
<rect x="228" y="730" width="4" height="6" fill="#000"/>
<rect x="233" y="730" width="4" height="6" fill="#000"/>
<rect x="238" y="730" width="4" height="5" fill="#000"/>
<rect x="243" y="730" width="4" height="4" fill="#000"/>
<rect x="248" y="730" width="4" height="6" fill="#000"/>
<rect x="253" y="730" width="4" height="5" fill="#000"/>
<rect x="258" y="730" width="4" height="1" fill="#000"/>
<rect x="263" y="730" width="4" height="1" fill="#000"/>
<rect x="268" y="730" width="4" height="3" fill="#000"/>
<rect x="273" y="730" width="4" height="7" fill="#000"/>
<rect x="278" y="730" width="4" height="11" fill="#000"/>
<rect x="283" y="730" width="4" height="11" fill="#000"/>
<rect x="288" y="730" width="4" height="10" fill="#000"/>
<rect x="293" y="730" width="4" height="10" fill="#000"/>
<rect x="298" y="730" width="4" height="10" fill="#000"/>
<rect x="303" y="730" width="4" height="9" fill="#000"/>
<rect x="308" y="730" width="4" height="9" fill="#000"/>
<rect x="313" y="730" width="4" height="7" fill="#000"/>
<rect x="318" y="730" width="4" height="3" fill="#000"/>
<rect x="333" y="726" width="4" height="3" fill="#000"/>
<rect x="338" y="724" width="4" height="5" fill="#000"/>
<rect x="343" y="718" width="4" height="11" fill="#000"/>
<rect x="348" y="715" width="4" height="14" fill="#000"/>
<rect x="353" y="712" width="4" height="17" fill="#000"/>
<rect x="358" y="715" width="4" height="14" fill="#000"/>
<rect x="363" y="715" width="4" height="14" fill="#000"/>
<rect x="368" y="715" width="4" height="14" fill="#000"/>
<rect x="373" y="716" width="4" height="13" fill="#000"/>
<rect x="378" y="719" width="4" height="10" fill="#000"/>
<rect x="383" y="723" width="4" height="6" fill="#000"/>
<rect x="388" y="728" width="4" height="1" fill="#000"/>
<rect x="393" y="730" width="4" height="3" fill="#000"/>
<rect x="398" y="730" width="4" height="6" fill="#000"/>
<rect x="403" y="730" width="4" height="8" fill="#000"/>
<rect x="408" y="730" width="4" height="8" fill="#000"/>
<rect x="418" y="723" width="4" height="6" fill="#000"/>
<rect x="423" y="720" width="4" height="9" fill="#000"/>
<rect x="428" y="716" width="4" height="13" fill="#000"/>
<rect x="433" y="715" width="4" height="14" fill="#000"/>
<rect x="438" y="715" width="4" height="14" fill="#000"/>
<rect x="443" y="714" width="4" height="15" fill="#000"/>
<rect x="448" y="716" width="4" height="13" fill="#000"/>
<rect x="453" y="719" width="4" height="10" fill="#000"/>
<rect x="458" y="721" width="4" height="8" fill="#000"/>
<rect x="463" y="725" width="4" height="4" fill="#000"/>
<rect x="473" y="730" width="4" height="2" fill="#000"/>
<rect x="478" y="730" width="4" height="4" fill="#000"/>
<rect x="483" y="730" width="4" height="7" fill="#000"/>
<rect x="488" y="730" width="4" height="10" fill="#000"/>
<rect x="493" y="730" width="4" height="14" fill="#000"/>
<rect x="498" y="730" width="4" height="16" fill="#000"/>
<rect x="503" y="730" width="4" height="19" fill="#000"/>
<rect x="508" y="730" width="4" height="16" fill="#000"/>
<rect x="513" y="730" width="4" height="10" fill="#000"/>
<rect x="518" y="730" width="4" height="7" fill="#000"/>
<rect x="523" y="730" width="4" height="4" fill="#000"/>
<rect x="533" y="730" width="4" height="2" fill="#000"/>
<rect x="538" y="730" width="4" height="6" fill="#000"/>
<rect x="543" y="730" width="4" height="9" fill="#000"/>
<rect x="548" y="730" width="4" height="14" fill="#000"/>
<rect x="553" y="730" width="4" height="16" fill="#000"/>
<rect x="558" y="730" width="4" height="16" fill="#000"/>
<rect x="563" y="730" width="4" height="14" fill="#000"/>
<rect x="568" y="730" width="4" height="12" fill="#000"/>
<rect x="573" y="730" width="4" height="6" fill="#000"/>
<rect x="583" y="722" width="4" height="7" fill="#000"/>
<rect x="588" y="715" width="4" height="14" fill="#000"/>
<rect x="593" y="712" width="4" height="17" fill="#000"/>
<rect x="598" y="712" width="4" height="17" fill="#000"/>
<rect x="603" y="711" width="4" height="18" fill="#000"/>
<rect x="608" y="706" width="4" height="23" fill="#000"/>
<rect x="613" y="702" width="4" height="27" fill="#000"/>
<rect x="618" y="700" width="4" height="29" fill="#000"/>
<rect x="623" y="696" width="4" height="33" fill="#000"/>
<rect x="628" y="697" width="4" height="32" fill="#000"/>
<rect x="633" y="699" width="4" height="30" fill="#000"/>
<rect x="638" y="701" width="4" height="28" fill="#000"/>
<rect x="643" y="705" width="4" height="24" fill="#000"/>
<rect x="648" y="707" width="4" height="22" fill="#000"/>
<rect x="653" y="711" width="4" height="18" fill="#000"/>
<rect x="658" y="715" width="4" height="14" fill="#000"/>
<rect x="663" y="725" width="4" height="4" fill="#000"/>
<rect x="668" y="730" width="4" height="6" fill="#000"/>
<rect x="673" y="730" width="4" height="13" fill="#000"/>
<rect x="678" y="730" width="4" height="16" fill="#000"/>
<rect x="683" y="730" width="4" height="15" fill="#000"/>
<rect x="688" y="730" width="4" height="18" fill="#000"/>
<rect x="693" y="730" width="4" height="21" fill="#000"/>
<rect x="698" y="730" width="4" height="22" fill="#000"/>
<rect x="703" y="730" width="4" height="24" fill="#000"/>
<rect x="708" y="730" width="4" height="25" fill="#000"/>
<rect x="713" y="730" width="4" height="29" fill="#000"/>
<rect x="718" y="730" width="4" height="23" fill="#000"/>
<rect x="723" y="730" width="4" height="19" fill="#000"/>
<rect x="728" y="730" width="4" height="13" fill="#000"/>
<rect x="733" y="730" width="4" height="9" fill="#000"/>
<rect x="738" y="730" width="4" height="8" fill="#000"/>
<rect x="743" y="730" width="4" height="7" fill="#000"/>
<rect x="748" y="730" width="4" height="6" fill="#000"/>
<rect x="753" y="730" width="4" height="4" fill="#000"/>
<rect x="758" y="730" width="4" height="2" fill="#000"/>
<rect x="763" y="727" width="4" height="2" fill="#000"/>
<rect x="768" y="723" width="4" height="6" fill="#000"/>
<rect x="773" y="720" width="4" height="9" fill="#000"/>
<rect x="778" y="717" width="4" height="12" fill="#000"/>
<rect x="783" y="714" width="4" height="15" fill="#000"/>
<rect x="788" y="711" width="4" height="18" fill="#000"/>
<rect x="793" y="712" width="4" height="17" fill="#000"/>
<rect x="798" y="715" width="4" height="14" fill="#000"/>
<rect x="803" y="720" width="4" height="9" fill="#000"/>
<rect x="808" y="724" width="4" height="5" fill="#000"/>
<rect x="813" y="728" width="4" height="1" fill="#000"/>
<rect x="828" y="728" width="4" height="1" fill="#000"/>
<rect x="833" y="726" width="4" height="3" fill="#000"/>
<rect x="838" y="725" width="4" height="4" fill="#000"/>
<rect x="843" y="722" width="4" height="7" fill="#000"/>
<rect x="848" y="718" width="4" height="11" fill="#000"/>
<rect x="853" y="718" width="4" height="11" fill="#000"/>
<rect x="858" y="717" width="4" height="12" fill="#000"/>
<rect x="863" y="717" width="4" height="12" fill="#000"/>
<rect x="868" y="722" width="4" height="7" fill="#000"/>
<rect x="873" y="726" width="4" height="3" fill="#000"/>
<rect x="878" y="730" width="4" height="1" fill="#000"/>
<rect x="883" y="730" width="4" height="4" fill="#000"/>
<rect x="888" y="730" width="4" height="6" fill="#000"/>
<rect x="893" y="730" width="4" height="4" fill="#000"/>
<rect x="898" y="730" width="4" height="4" fill="#000"/>
<rect x="903" y="730" width="4" height="6" fill="#000"/>
<rect x="908" y="730" width="4" height="7" fill="#000"/>
<rect x="913" y="730" width="4" height="9" fill="#000"/>
<rect x="918" y="730" width="4" height="12" fill="#000"/>
<rect x="923" y="730" width="4" height="13" fill="#000"/>
<rect x="928" y="730" width="4" height="8" fill="#000"/>
<rect x="933" y="726" width="4" height="3" fill="#000"/>
<rect x="938" y="718" width="4" height="11" fill="#000"/>
<rect x="943" y="712" width="4" height="17" fill="#000"/>
<rect x="948" y="707" width="4" height="22" fill="#000"/>
<rect x="953" y="702" width="4" height="27" fill="#000"/>
<rect x="958" y="699" width="4" height="30" fill="#000"/>
<rect x="963" y="700" width="4" height="29" fill="#000"/>
<rect x="968" y="702" width="4" height="27" fill="#000"/>
<rect x="973" y="704" width="4" height="25" fill="#000"/>
<rect x="978" y="707" width="4" height="22" fill="#000"/>
<rect x="983" y="711" width="4" height="18" fill="#000"/>
<rect x="988" y="718" width="4" height="11" fill="#000"/>
<rect x="993" y="726" width="4" height="3" fill="#000"/>
<rect x="998" y="730" width="4" height="1" fill="#000"/>
<rect x="1003" y="730" width="4" height="5" fill="#000"/>
<rect x="1008" y="730" width="4" height="7" fill="#000"/>
<rect x="1013" y="730" width="4" height="9" fill="#000"/>
<rect x="1018" y="730" width="4" height="7" fill="#000"/>
<rect x="1023" y="730" width="4" height="6" fill="#000"/>
<rect x="1028" y="730" width="4" height="8" fill="#000"/>
<rect x="1033" y="730" width="4" height="11" fill="#000"/>
<rect x="1038" y="730" width="4" height="15" fill="#000"/>
<rect x="1043" y="730" width="4" height="15" fill="#000"/>
<rect x="1048" y="730" width="4" height="14" fill="#000"/>
<rect x="1053" y="730" width="4" height="14" fill="#000"/>
<rect x="1058" y="730" width="4" height="14" fill="#000"/>
<rect x="1063" y="730" width="4" height="14" fill="#000"/>
<rect x="1068" y="730" width="4" height="14" fill="#000"/>
<rect x="1073" y="730" width="4" height="16" fill="#000"/>
<rect x="1078" y="730" width="4" height="19" fill="#000"/>
<rect x="1083" y="730" width="4" height="20" fill="#000"/>
<rect x="1088" y="730" width="4" height="21" fill="#000"/>
<rect x="1093" y="730" width="4" height="19" fill="#000"/>
<rect x="1098" y="730" width="4" height="16" fill="#000"/>
<rect x="1103" y="730" width="4" height="12" fill="#000"/>
<rect x="1108" y="730" width="4" height="7" fill="#000"/>
<rect x="1118" y="724" width="4" height="5" fill="#000"/>
<rect x="1123" y="722" width="4" height="7" fill="#000"/>
<rect x="1128" y="721" width="4" height="8" fill="#000"/>
<rect x="1133" y="724" width="4" height="5" fill="#000"/>
<rect x="1138" y="728" width="4" height="1" fill="#000"/>
<rect x="1143" y="730" width="4" height="2" fill="#000"/>
<rect x="1148" y="730" width="4" height="6" fill="#000"/>
<rect x="1153" y="730" width="4" height="10" fill="#000"/>
<rect x="1158" y="730" width="4" height="16" fill="#000"/>
<rect x="1163" y="730" width="4" height="18" fill="#000"/>
<rect x="1168" y="730" width="4" height="16" fill="#000"/>
<rect x="1173" y="730" width="4" height="13" fill="#000"/>
<rect x="1178" y="730" width="4" height="5" fill="#000"/>
<rect x="1183" y="726" width="4" height="3" fill="#000"/>
<rect x="1188" y="720" width="4" height="9" fill="#000"/>
<rect x="1193" y="713" width="4" height="16" fill="#000"/>
<rect x="1198" y="704" width="4" height="25" fill="#000"/>
<rect x="1203" y="696" width="4" height="33" fill="#000"/>
<rect x="1208" y="691" width="4" height="38" fill="#000"/>
<rect x="1213" y="691" width="4" height="38" fill="#000"/>
<rect x="1218" y="691" width="4" height="38" fill="#000"/>
<rect x="1223" y="689" width="4" height="40" fill="#000"/>
<rect x="1228" y="689" width="4" height="40" fill="#000"/>
<rect x="1233" y="692" width="4" height="37" fill="#000"/>
<rect x="1238" y="697" width="4" height="32" fill="#000"/>
<rect x="1243" y="701" width="4" height="28" fill="#000"/>
<rect x="1248" y="707" width="4" height="22" fill="#000"/>
<rect x="1253" y="712" width="4" height="17" fill="#000"/>
<rect x="1258" y="711" width="4" height="18" fill="#000"/>
<rect x="1263" y="714" width="4" height="15" fill="#000"/>
<rect x="1268" y="716" width="4" height="13" fill="#000"/>
<rect x="1273" y="719" width="4" height="10" fill="#000"/>
<rect x="1278" y="723" width="4" height="6" fill="#000"/>
<rect x="1283" y="726" width="4" height="3" fill="#000"/>
<rect x="1288" y="726" width="4" height="3" fill="#000"/>
<rect x="1293" y="730" width="4" height="2" fill="#000"/>
<rect x="1298" y="730" width="4" height="7" fill="#000"/>
<rect x="1303" y="730" width="4" height="9" fill="#000"/>
<rect x="1308" y="730" width="4" height="6" fill="#000"/>
<rect x="1313" y="730" width="4" height="5" fill="#000"/>
<rect x="1318" y="730" width="4" height="1" fill="#000"/>
</g>
<polyline points="0.0,766.0 10.0,766.5 20.0,773.5 30.0,778.0 40.0,778.5 50.0,776.5 60.0,779.8 70.0,778.0 75.0,773.5 85.0,761.0 90.0,763.5 100.0,760.5 105.0,758.5 110.0,759.8 120.0,769.8 130.0,778.5 145.0,788.0 155.0,782.2 165.0,777.2 175.0,767.2 185.0,753.5 195.0,738.5 205.0,731.0 210.0,725.5 220.0,736.0 225.0,743.5 235.0,742.2 245.0,743.5 255.0,748.5 265.0,747.2 275.0,753.5 280.0,759.8 290.0,764.8 300.0,766.0 315.0,775.5 325.0,771.5 340.0,767.2 355.0,748.5 360.0,750.5 370.0,743.0 380.0,739.8 390.0,744.8 400.0,753.5 410.0,756.0 420.0,742.2 430.0,736.0 440.0,728.5 450.0,724.8 460.0,724.0 470.0,726.0 480.0,731.0 490.0,741.0 505.0,757.2 520.0,754.8 532.5,755.5 540.0,762.2 555.0,778.5 570.0,784.0 580.0,778.5 590.0,763.5 600.0,758.0 610.0,746.0 620.0,726.0 630.0,712.2 640.0,699.8 650.0,692.2 660.0,688.5 670.0,706.0 680.0,715.5 685.0,716.5 695.0,729.8 705.0,742.2 715.0,761.0 725.0,763.0 735.0,763.5 750.0,771.0 760.0,769.8 775.0,754.8 790.0,742.2 800.0,738.5 810.0,742.2 820.0,744.8 830.0,742.2 845.0,736.0 855.0,728.5 865.0,723.5 875.0,728.5 885.0,732.2 895.0,733.5 910.0,737.2 920.0,748.5 925.0,754.8 935.0,741.0 940.0,732.2 950.0,719.8 960.0,707.2 970.0,693.5 985.0,682.2 995.0,688.5 1005.0,697.2 1015.0,701.0 1025.0,701.5 1035.0,712.2 1045.0,722.2 1055.0,728.0 1065.0,733.5 1075.0,742.2 1085.0,757.2 1100.0,772.2 1115.0,763.5 1130.0,758.0 1140.0,761.0 1150.0,771.0 1160.0,782.2 1175.0,791.5 1190.0,772.2 1200.0,756.0 1210.0,731.0 1220.0,708.5 1235.0,687.2 1245.0,678.5 1255.0,676.0 1265.0,667.2 1272.5,664.8 1280.0,666.0 1290.0,667.2 1300.0,677.2 1307.5,680.5 1320.0,676.0" fill="none" stroke="#ff0000" stroke-width="1.2"/>
<polyline points="0.0,762.2 10.0,766.0 25.0,769.8 40.0,773.0 65.0,778.5 75.0,777.2 85.0,773.5 100.0,769.8 110.0,764.0 120.0,763.0 135.0,768.5 150.0,777.2 165.0,781.0 175.0,779.0 185.0,773.5 200.0,758.5 215.0,741.0 225.0,736.5 235.0,735.5 245.0,737.2 260.0,744.0 275.0,748.0 290.0,754.8 305.0,761.0 320.0,769.8 335.0,771.0 345.0,769.8 360.0,761.0 375.0,753.5 395.0,744.0 410.0,747.2 425.0,748.5 440.0,742.2 455.0,732.2 465.0,728.0 485.0,728.0 495.0,734.8 510.0,743.5 530.0,752.2 545.0,757.2 560.0,764.0 570.0,771.0 585.0,778.5 600.0,772.2 610.0,764.8 625.0,746.0 640.0,726.0 655.0,708.5 670.0,697.2 680.0,698.5 695.0,706.0 710.0,723.5 720.0,738.5 735.0,753.5 750.0,763.0 765.0,766.0 780.0,763.5 795.0,756.0 810.0,746.5 825.0,742.2 850.0,741.0 870.0,731.5 880.0,729.0 895.0,728.5 920.0,737.2 930.0,742.2 940.0,743.5 950.0,741.0 960.0,732.2 975.0,709.8 990.0,693.5 1000.0,690.5 1015.0,692.2 1025.0,695.5 1040.0,703.5 1055.0,713.0 1070.0,725.5 1085.0,737.2 1100.0,752.2 1115.0,762.2 1130.0,765.5 1150.0,763.5 1165.0,768.5 1180.0,778.5 1195.0,781.0 1205.0,773.5 1220.0,753.5 1235.0,728.5 1250.0,704.8 1265.0,682.2 1280.0,671.0 1295.0,668.0 1305.0,669.0 1320.0,674.0" fill="none" stroke="#0000ff" stroke-width="1.2"/>
<text x="5" y="668.5" font-size="11.5" fill="#ff0000" letter-spacing="0.5">MACD(USD/JPY.Close, 12, 26, 9) -</text><text x="211.7" y="668.5" font-size="11.5" fill="#ff0000" letter-spacing="0.5">MACD: 0.366</text>
<text x="294.8" y="668.5" font-size="11.5" fill="#1a1aff" letter-spacing="0.5">SIGNAL: 0.380</text>
<text x="388.2" y="668.5" font-size="11.5" fill="#000" letter-spacing="0.5">HISTOGRAM: -0.014</text>
<text x="1846" y="733.5" font-size="11.5" fill="#4050a0" letter-spacing="0.3">0.000</text>
<rect x="1320" y="741" width="199" height="18" fill="url(#gray)" shape-rendering="crispEdges"/><text class="" x="1419.5" y="756.0" font-size="17" fill="#000" text-anchor="middle" letter-spacing="0.4" font-weight="bold">MACD Histogram Rise</text>
<g shape-rendering="crispEdges">
<rect x="0" y="814" width="1842" height="1" fill="#000"/>
<rect x="0" y="878" width="1842" height="1" fill="#000"/>
<rect x="0" y="941" width="1842" height="1" fill="#000"/>
<rect x="0" y="852" width="1827" height="1" fill="#f04040"/>
<rect x="0" y="903" width="1827" height="1" fill="#f04040"/>
<rect x="1838" y="815" width="4" height="1" fill="#3c3c3c"/>
<rect x="1838" y="827" width="4" height="1" fill="#3c3c3c"/>
<rect x="1838" y="840" width="4" height="1" fill="#3c3c3c"/>
<rect x="1838" y="852" width="4" height="1" fill="#3c3c3c"/>
<rect x="1838" y="865" width="4" height="1" fill="#3c3c3c"/>
<rect x="1838" y="878" width="4" height="1" fill="#3c3c3c"/>
<rect x="1838" y="890" width="4" height="1" fill="#3c3c3c"/>
<rect x="1838" y="903" width="4" height="1" fill="#3c3c3c"/>
<rect x="1838" y="915" width="4" height="1" fill="#3c3c3c"/>
<rect x="1838" y="928" width="4" height="1" fill="#3c3c3c"/>
<rect x="1838" y="941" width="4" height="1" fill="#3c3c3c"/>
</g>
<path d="M0 944.5 H1827" stroke="#d8d8d8" stroke-width="1" stroke-dasharray="3,3"/>
<polyline points="0.0,887.2 10.0,893.5 15.0,901.0 20.0,893.5 25.0,899.8 30.0,894.8 45.0,894.8 50.0,893.5 55.0,902.2 60.0,899.8 65.0,892.2 70.0,893.0 80.0,879.0 85.0,879.8 90.0,891.0 100.0,884.8 105.0,885.5 110.0,891.0 117.5,899.8 125.0,901.0 130.0,903.0 135.0,899.8 140.0,904.0 145.0,901.0 150.0,889.8 155.0,891.0 160.0,885.5 165.0,891.0 175.0,877.2 180.0,876.0 187.5,869.8 195.0,870.5 200.0,871.5 205.0,874.0 210.0,865.5 215.0,887.2 220.0,889.8 225.0,889.8 235.0,879.0 240.0,882.2 245.0,883.0 250.0,888.0 255.0,886.5 260.0,881.5 265.0,884.8 270.0,890.5 280.0,898.0 290.0,891.5 295.0,893.0 305.0,898.0 315.0,899.0 320.0,892.2 325.0,889.8 330.0,893.0 340.0,888.0 345.0,876.0 350.0,878.0 355.0,873.5 360.0,886.5 365.0,877.2 370.0,876.8 375.0,878.5 380.0,879.0 390.0,890.5 395.0,893.5 405.0,892.2 410.0,891.5 415.0,871.5 420.0,870.5 425.0,873.5 430.0,872.2 440.0,873.0 445.0,869.8 450.0,873.5 460.0,873.5 465.0,878.5 475.0,886.5 480.0,882.2 485.0,886.5 490.0,897.2 495.0,898.0 500.0,902.2 505.0,902.2 510.0,890.5 515.0,887.2 520.0,885.5 530.0,889.8 540.0,904.8 545.0,906.0 555.0,909.8 560.0,909.0 565.0,906.0 570.0,905.5 580.0,889.8 590.0,877.2 600.0,884.8 605.0,878.5 610.0,864.0 620.0,860.5 625.0,853.0 630.0,863.0 635.0,859.8 645.0,859.8 650.0,856.8 660.0,862.2 665.0,879.0 670.0,884.8 675.0,884.8 685.0,876.0 690.0,886.5 695.0,890.5 702.5,893.5 715.0,901.0 720.0,885.5 725.0,889.8 730.0,886.5 735.0,887.2 750.0,894.8 760.0,886.5 770.0,881.0 775.0,880.5 780.0,877.2 790.0,871.5 795.0,878.5 800.0,879.0 805.0,887.2 810.0,885.5 815.0,889.0 820.0,884.0 825.0,884.0 830.0,878.0 840.0,877.2 845.0,873.0 850.0,868.0 855.0,871.5 865.0,867.2 870.0,884.0 875.0,881.5 880.0,886.0 890.0,885.5 895.0,879.8 900.0,883.0 905.0,883.0 910.0,892.2 915.0,893.0 920.0,899.8 925.0,899.0 930.0,878.5 935.0,866.0 940.0,864.8 945.0,866.0 950.0,864.0 955.0,858.5 960.0,857.2 965.0,859.0 970.0,858.5 975.0,854.8 980.0,853.5 985.0,854.8 990.0,864.8 995.0,872.2 1000.0,871.0 1005.0,872.2 1010.0,871.5 1015.0,873.5 1020.0,866.5 1025.0,868.0 1030.0,880.5 1035.0,881.0 1040.0,888.0 1045.0,882.2 1055.0,882.2 1060.0,884.8 1065.0,890.5 1070.0,889.8 1075.0,894.8 1080.0,901.5 1090.0,903.0 1100.0,899.8 1110.0,884.0 1120.0,884.8 1125.0,886.5 1135.0,894.8 1140.0,900.5 1150.0,904.0 1155.0,908.0 1160.0,913.5 1165.0,914.0 1170.0,907.2 1175.0,905.5 1180.0,884.8 1190.0,884.8 1195.0,874.8 1205.0,861.5 1210.0,858.5 1215.0,863.0 1220.0,857.2 1230.0,852.2 1240.0,851.0 1245.0,852.2 1250.0,854.8 1255.0,854.8 1260.0,845.5 1265.0,851.5 1270.0,851.5 1280.0,857.2 1285.0,857.2 1290.0,851.5 1295.0,869.0 1300.0,869.0 1310.0,859.8 1315.0,859.0 1320.0,856.0" fill="none" stroke="#000" stroke-width="2" stroke-linejoin="round"/>
<text x="5" y="819" font-size="11.5" fill="#000" letter-spacing="0.5">RSI(USD/JPY.Close, 14): 68.00</text>
<rect x="1845" y="809" width="21" height="12" fill="#a0a0a0" shape-rendering="crispEdges"/><text x="1846" y="819" font-size="11.5" fill="#000" letter-spacing="0.2">100</text>
<rect x="1845" y="847" width="14" height="12" fill="#f05050" shape-rendering="crispEdges"/><text x="1846" y="857" font-size="11.5" fill="#000" letter-spacing="0.2">70</text>
<rect x="1845" y="873" width="14" height="12" fill="#a0a0a0" shape-rendering="crispEdges"/><text x="1846" y="883" font-size="11.5" fill="#000" letter-spacing="0.2">50</text>
<rect x="1845" y="898" width="14" height="12" fill="#f05050" shape-rendering="crispEdges"/><text x="1846" y="908" font-size="11.5" fill="#000" letter-spacing="0.2">30</text>
<rect x="1843" y="936" width="32" height="12" fill="#f7a000" shape-rendering="crispEdges"/><text x="1844" y="946" font-size="11.5" fill="#000" letter-spacing="0.2">-2.66</text>
<rect x="1310" y="883" width="77" height="18" fill="url(#gray)" shape-rendering="crispEdges"/><text class="ser" x="1348.5" y="898.3" font-size="18" fill="#000" text-anchor="middle" letter-spacing="1.4">RSI&gt;50</text>
<text x="1587" y="883" font-size="19.7" fill="#c4c4c4">Activate Windows</text>
<text x="1587" y="903" font-size="14" fill="#c4c4c4" letter-spacing="0.4">Go to Settings to activate Windows.</text>
</svg></body></html>
